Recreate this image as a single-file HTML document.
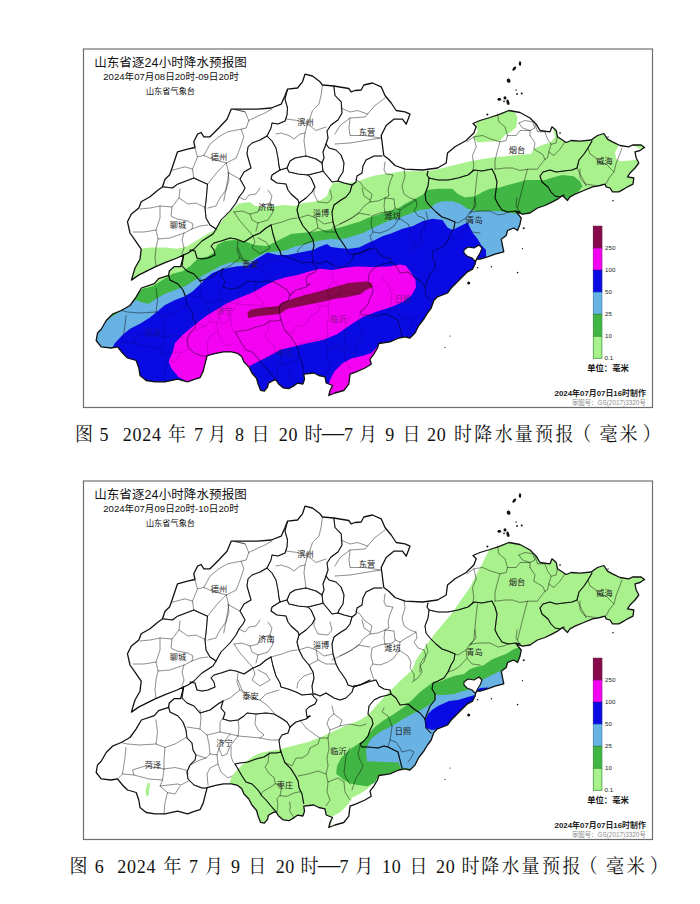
<!DOCTYPE html>
<html lang="zh-CN"><head><meta charset="utf-8"><title>山东省逐24小时降水预报图</title>
<style>
html,body{margin:0;padding:0;background:#fff;}
body{width:700px;height:904px;overflow:hidden;position:relative;}
svg{position:absolute;left:0;top:0;display:block;}
.cn{font-family:"Liberation Sans","Noto Sans CJK SC",sans-serif;}
.cap{font-family:"Liberation Serif","Noto Serif CJK SC",serif;fill:#111;}
</style></head><body>
<svg width="700" height="904" viewBox="0 0 700 904">
<defs><clipPath id="prov"><polygon points="131.4,280.1 135.0,268.0 140.0,259.2 141.2,249.2 136.2,241.8 130.0,233.0 127.5,221.8 131.2,214.2 138.8,208.0 141.2,201.8 150.0,196.8 157.5,190.5 162.5,186.8 165.0,179.2 169.5,175.0 171.2,170.5 175.0,159.2 177.5,151.8 187.5,149.2 195.0,147.5 193.8,141.8 197.5,134.2 201.2,132.5 203.8,136.8 210.0,136.8 218.8,128.0 227.0,119.2 231.2,109.2 243.8,109.2 257.5,109.2 271.2,108.0 281.2,104.2 285.0,95.5 287.5,89.2 297.5,88.0 302.5,81.8 305.0,74.2 312.5,76.0 320.0,81.8 322.5,85.0 333.8,86.0 348.8,88.5 351.2,91.8 355.0,90.5 361.2,90.0 363.8,85.0 372.5,83.0 381.2,86.8 385.0,95.5 391.2,103.0 396.2,110.5 405.0,111.8 410.0,114.2 406.2,124.2 402.5,119.2 393.8,119.2 386.2,125.5 381.2,135.5 382.5,145.5 383.8,155.5 388.8,159.2 395.0,165.5 405.0,169.2 422.5,170.0 437.5,168.0 446.2,163.0 447.5,153.0 455.0,146.8 466.2,140.5 473.8,133.0 476.2,126.8 473.0,123.5 480.0,120.5 490.0,117.5 500.0,114.2 508.8,110.5 520.0,112.5 530.0,118.0 536.2,124.2 540.0,130.5 550.0,131.8 552.0,126.8 556.2,130.5 557.5,136.8 566.2,142.5 571.2,140.5 580.0,141.2 591.2,140.0 597.5,135.5 603.8,133.5 607.5,139.2 612.5,141.8 620.0,145.5 628.8,146.8 632.5,145.0 641.2,145.0 644.5,147.5 640.0,150.5 635.0,151.8 636.2,158.0 638.8,163.0 635.0,168.0 630.0,173.0 627.5,176.8 633.8,178.0 633.0,184.2 627.5,186.8 623.8,189.2 618.8,191.8 612.5,191.8 610.0,188.0 606.2,186.8 605.0,184.2 600.0,185.5 592.5,186.8 583.8,190.5 575.0,194.2 570.0,196.8 567.5,200.5 562.5,195.5 557.5,199.2 552.5,201.8 545.0,205.5 537.5,208.0 530.0,213.0 522.5,214.2 516.2,211.8 521.2,218.0 520.0,224.2 517.5,230.5 513.8,228.0 507.5,230.5 506.2,235.5 501.2,239.2 503.8,251.8 495.0,254.2 487.5,256.8 480.0,259.2 476.2,259.2 475.0,264.2 472.5,269.2 467.5,271.8 461.2,278.0 456.2,283.0 451.2,288.0 447.5,293.0 441.2,295.5 437.5,296.8 433.8,300.5 431.2,308.0 427.5,313.0 423.8,319.2 418.8,325.5 415.0,333.0 410.0,338.0 405.0,336.8 398.8,338.0 390.0,341.8 378.8,343.5 377.5,348.0 373.8,354.2 370.0,359.2 371.2,364.2 365.0,368.0 356.2,371.8 350.0,374.2 348.8,384.2 343.8,390.5 335.0,393.0 328.8,395.5 330.0,390.5 332.5,385.5 326.2,383.0 325.0,376.8 318.8,375.5 313.8,373.0 303.8,374.2 304.5,379.3 302.9,384.0 297.4,383.2 294.3,385.6 288.8,388.7 283.3,387.9 278.6,384.0 276.2,380.1 273.9,380.1 268.4,383.2 267.6,387.1 264.4,391.1 260.5,390.3 258.1,384.0 256.6,378.5 251.9,373.0 248.7,366.7 244.0,362.0 241.6,356.5 237.7,353.4 231.4,351.8 223.6,351.8 215.7,353.4 207.1,355.7 204.7,365.1 203.1,371.4 200.0,377.7 195.0,379.2 187.5,381.8 177.5,379.2 165.0,381.8 155.0,381.8 146.2,380.5 140.0,375.5 138.8,368.0 136.2,360.5 127.5,358.0 122.5,353.0 117.5,346.8 111.2,348.0 101.2,346.8 96.2,340.5 97.5,333.0 101.2,329.2 106.2,320.5 112.5,314.2 121.2,310.5 130.0,305.5 136.2,296.8 141.4,288.0 154.3,283.7 158.6,278.7 168.6,275.4 169.3,270.9 174.3,266.6 180.7,266.6 182.1,260.9 183.6,254.9 177.1,258.0 165.7,262.3 155.7,266.6 148.6,270.1 138.6,275.1"/></clipPath></defs>
<rect width="700" height="904" fill="#fff"/>
<g transform="translate(0,0)">
<rect x="83.5" y="49" width="569" height="358.5" fill="#fff" stroke="#6e6e6e" stroke-width="1.2"/>
<g clip-path="url(#prov)"><polygon points="90.0,249.0 141.2,248.8 150.0,247.5 165.0,247.5 177.5,248.8 187.5,246.2 197.5,240.0 207.5,233.8 215.0,230.0 218.8,225.0 227.0,214.5 238.6,203.5 250.0,202.0 255.0,206.0 265.0,207.0 275.0,206.0 285.0,205.0 295.0,206.0 303.0,203.0 313.0,202.0 321.0,200.0 327.0,196.0 330.0,188.0 333.0,183.0 341.0,182.0 349.0,183.0 359.0,181.0 367.0,178.0 375.0,175.5 385.0,174.0 395.0,172.5 402.5,171.2 415.0,171.2 427.5,171.2 440.0,168.8 450.0,166.2 460.0,163.8 470.0,161.2 480.0,159.5 492.5,157.5 505.0,156.2 517.5,155.0 531.2,153.8 533.8,148.8 542.5,145.0 550.0,142.5 555.0,137.5 553.8,131.2 553.0,120.0 660.0,120.0 660.0,400.0 90.0,400.0" fill="#a9f18d"/><polygon points="618.8,145.0 625.0,145.0 635.0,146.2 640.0,149.0 648.0,152.0 648.0,159.0 637.5,159.5 630.0,160.5 620.0,161.2 616.2,158.8 615.0,152.5 617.5,147.5" fill="#fff"/><polygon points="474.0,116.0 487.0,110.0 503.0,106.0 513.0,108.0 517.5,117.5 516.2,127.5 510.0,132.5 505.0,135.0 500.0,141.2 490.3,141.5 477.7,142.4 473.0,137.7 477.7,131.4" fill="#a9f18d"/><polygon points="90.0,300.0 130.0,296.0 136.2,293.8 142.5,288.8 152.5,286.2 162.5,280.0 172.5,273.8 182.5,271.2 190.0,266.2 197.5,258.8 207.5,256.5 213.8,252.5 217.5,244.5 225.0,241.0 235.0,240.0 245.0,241.5 255.0,245.0 267.0,246.0 275.0,242.0 283.0,238.0 291.0,234.0 301.0,233.0 311.0,232.0 319.0,231.0 329.0,229.5 340.0,227.5 350.0,224.5 360.0,221.5 367.5,218.0 377.5,215.0 387.5,211.5 397.5,208.8 405.0,203.8 415.0,198.8 422.5,195.0 427.5,190.0 437.5,188.8 452.5,188.8 457.5,193.8 465.0,197.5 475.0,196.2 482.5,192.0 490.0,188.8 500.0,187.5 507.5,185.0 517.5,182.5 526.2,180.0 537.5,180.0 545.0,180.0 552.5,177.5 562.5,175.0 573.8,176.2 580.0,181.2 582.5,186.2 578.8,191.2 572.5,195.0 567.5,200.0 565.0,230.0 660.0,400.0 90.0,400.0" fill="#42b645"/><polygon points="90.0,335.0 110.0,318.0 124.0,309.0 130.0,303.8 136.2,300.0 142.5,302.5 148.8,303.8 156.2,298.8 165.0,293.8 175.0,290.0 185.0,286.2 191.2,282.5 200.0,277.0 207.5,273.0 215.0,269.0 221.0,265.5 230.0,262.5 240.0,262.5 250.0,261.0 255.0,258.0 265.0,252.5 277.5,251.2 285.0,250.5 295.0,246.5 305.0,244.5 313.0,242.0 323.0,240.0 331.0,239.0 339.0,239.5 345.0,238.5 355.0,235.5 363.0,233.0 371.0,229.0 379.0,225.0 387.0,221.5 395.0,219.0 400.0,217.5 410.0,213.8 420.0,210.0 430.0,208.8 435.0,203.8 442.5,201.2 452.5,201.2 460.0,203.8 467.5,208.8 477.5,211.5 490.0,211.0 500.0,211.2 507.5,212.5 515.0,213.8 535.0,214.0 535.0,270.0 660.0,400.0 90.0,400.0" fill="#68b2e4"/></g>
<polyline points="233.8,109.2 245.0,111.8 248.8,120.5 246.2,128.0 241.2,129.2 227.5,131.8 218.8,136.8 210.0,144.2 203.8,155.5 197.5,156.8 195.0,148.0" fill="none" stroke="rgba(0,0,0,0.42)" stroke-width="0.8" stroke-linejoin="round" stroke-linecap="round"/><polyline points="241.2,129.2 243.8,136.8 240.0,148.0 236.2,158.0 226.2,163.0 217.5,171.8 207.5,184.2" fill="none" stroke="rgba(0,0,0,0.42)" stroke-width="0.8" stroke-linejoin="round" stroke-linecap="round"/><polyline points="171.2,170.5 185.0,166.8 192.5,169.2 193.8,178.0" fill="none" stroke="rgba(0,0,0,0.42)" stroke-width="0.8" stroke-linejoin="round" stroke-linecap="round"/><polyline points="197.5,156.8 192.5,169.2" fill="none" stroke="rgba(0,0,0,0.42)" stroke-width="0.8" stroke-linejoin="round" stroke-linecap="round"/><polyline points="203.8,155.5 212.5,159.2 226.2,163.0" fill="none" stroke="rgba(0,0,0,0.42)" stroke-width="0.8" stroke-linejoin="round" stroke-linecap="round"/><polyline points="226.2,163.0 228.8,173.0 240.0,179.2" fill="none" stroke="rgba(0,0,0,0.42)" stroke-width="0.8" stroke-linejoin="round" stroke-linecap="round"/><polyline points="228.8,173.0 226.2,188.0 223.8,201.0" fill="none" stroke="rgba(0,0,0,0.42)" stroke-width="0.8" stroke-linejoin="round" stroke-linecap="round"/><polyline points="248.8,120.5 258.0,116.0 265.0,113.0 272.0,109.0" fill="none" stroke="rgba(0,0,0,0.42)" stroke-width="0.8" stroke-linejoin="round" stroke-linecap="round"/><polyline points="180.0,189.0 179.0,198.0 172.0,207.0 160.0,206.0 150.0,208.0 140.0,209.0" fill="none" stroke="rgba(0,0,0,0.42)" stroke-width="0.8" stroke-linejoin="round" stroke-linecap="round"/><polyline points="179.0,198.0 188.0,204.0 196.0,203.0 204.0,207.0 206.0,208.0" fill="none" stroke="rgba(0,0,0,0.42)" stroke-width="0.8" stroke-linejoin="round" stroke-linecap="round"/><polyline points="172.0,207.0 171.0,216.0 177.0,219.0 188.0,221.0 193.0,224.0 192.0,229.0 184.0,233.0 170.0,238.0 158.0,239.0 156.0,230.0 160.0,218.0 160.0,206.0" fill="none" stroke="rgba(0,0,0,0.42)" stroke-width="0.8" stroke-linejoin="round" stroke-linecap="round"/><polyline points="156.0,230.0 144.0,232.0 133.0,232.0" fill="none" stroke="rgba(0,0,0,0.42)" stroke-width="0.8" stroke-linejoin="round" stroke-linecap="round"/><polyline points="158.0,239.0 156.0,248.0 155.0,258.0 156.0,266.0" fill="none" stroke="rgba(0,0,0,0.42)" stroke-width="0.8" stroke-linejoin="round" stroke-linecap="round"/><polyline points="184.0,233.0 182.0,240.0 184.0,248.0 182.0,254.0" fill="none" stroke="rgba(0,0,0,0.42)" stroke-width="0.8" stroke-linejoin="round" stroke-linecap="round"/><polyline points="192.0,229.0 200.0,226.0 208.0,225.0" fill="none" stroke="rgba(0,0,0,0.42)" stroke-width="0.8" stroke-linejoin="round" stroke-linecap="round"/><polyline points="208.0,208.0 216.0,206.0 220.0,198.0 226.0,190.0 229.0,180.0 228.0,172.0" fill="none" stroke="rgba(0,0,0,0.42)" stroke-width="0.8" stroke-linejoin="round" stroke-linecap="round"/><polyline points="156.0,288.0 157.5,300.5 156.0,312.0 165.0,315.5 164.0,328.0 164.0,337.0 162.5,348.0 160.0,354.0 167.5,360.5 165.0,370.5 164.0,382.0" fill="none" stroke="rgba(0,0,0,0.42)" stroke-width="0.8" stroke-linejoin="round" stroke-linecap="round"/><polyline points="121.0,310.5 127.5,312.0 140.0,313.0 156.0,312.0" fill="none" stroke="rgba(0,0,0,0.42)" stroke-width="0.8" stroke-linejoin="round" stroke-linecap="round"/><polyline points="165.0,315.5 175.0,312.0 186.0,305.5" fill="none" stroke="rgba(0,0,0,0.42)" stroke-width="0.8" stroke-linejoin="round" stroke-linecap="round"/><polyline points="126.0,315.5 125.0,325.5 122.5,342.0 117.5,347.0" fill="none" stroke="rgba(0,0,0,0.42)" stroke-width="0.8" stroke-linejoin="round" stroke-linecap="round"/><polyline points="122.5,342.0 134.0,343.0 149.0,347.0 162.5,348.0" fill="none" stroke="rgba(0,0,0,0.42)" stroke-width="0.8" stroke-linejoin="round" stroke-linecap="round"/><polyline points="134.0,343.0 132.5,338.0 145.0,334.0 164.0,337.0" fill="none" stroke="rgba(0,0,0,0.42)" stroke-width="0.8" stroke-linejoin="round" stroke-linecap="round"/><polyline points="164.0,337.0 175.0,335.5 186.0,338.0 188.5,342.0" fill="none" stroke="rgba(0,0,0,0.42)" stroke-width="0.8" stroke-linejoin="round" stroke-linecap="round"/><polyline points="160.0,354.0 177.5,352.0 181.0,353.0 188.5,349.0" fill="none" stroke="rgba(0,0,0,0.42)" stroke-width="0.8" stroke-linejoin="round" stroke-linecap="round"/><polyline points="167.5,360.5 175.0,362.0 180.0,354.0" fill="none" stroke="rgba(0,0,0,0.42)" stroke-width="0.8" stroke-linejoin="round" stroke-linecap="round"/><polyline points="187.0,295.0 200.0,297.0 207.0,303.0 220.0,300.0 220.0,290.0 223.0,286.0" fill="none" stroke="rgba(0,0,0,0.42)" stroke-width="0.8" stroke-linejoin="round" stroke-linecap="round"/><polyline points="200.0,297.0 201.0,286.0 200.0,278.0" fill="none" stroke="rgba(0,0,0,0.42)" stroke-width="0.8" stroke-linejoin="round" stroke-linecap="round"/><polyline points="220.0,300.0 230.0,302.0 238.0,304.0 239.0,296.0 238.0,288.0" fill="none" stroke="rgba(0,0,0,0.42)" stroke-width="0.8" stroke-linejoin="round" stroke-linecap="round"/><polyline points="238.0,304.0 250.0,305.0 260.0,306.0 264.0,303.0 258.0,298.0 255.0,292.0 256.0,282.0" fill="none" stroke="rgba(0,0,0,0.42)" stroke-width="0.8" stroke-linejoin="round" stroke-linecap="round"/><polyline points="260.0,306.0 270.0,308.0 279.0,308.0" fill="none" stroke="rgba(0,0,0,0.42)" stroke-width="0.8" stroke-linejoin="round" stroke-linecap="round"/><polyline points="207.0,303.0 209.0,312.0 210.0,322.0 206.0,326.0 196.0,323.0" fill="none" stroke="rgba(0,0,0,0.42)" stroke-width="0.8" stroke-linejoin="round" stroke-linecap="round"/><polyline points="210.0,322.0 217.0,323.0 219.0,316.0 224.0,310.0 230.0,302.0" fill="none" stroke="rgba(0,0,0,0.42)" stroke-width="0.8" stroke-linejoin="round" stroke-linecap="round"/><polyline points="219.0,316.0 222.0,324.0 227.0,322.0 230.0,314.0 238.0,304.0" fill="none" stroke="rgba(0,0,0,0.42)" stroke-width="0.8" stroke-linejoin="round" stroke-linecap="round"/><polyline points="217.0,323.0 218.0,332.0 221.0,340.0 228.0,346.0 232.0,344.0" fill="none" stroke="rgba(0,0,0,0.42)" stroke-width="0.8" stroke-linejoin="round" stroke-linecap="round"/><polyline points="218.0,332.0 210.0,336.0 207.0,342.0 208.0,353.0" fill="none" stroke="rgba(0,0,0,0.42)" stroke-width="0.8" stroke-linejoin="round" stroke-linecap="round"/><polyline points="231.0,314.0 231.0,324.0 233.0,330.0 235.0,332.0" fill="none" stroke="rgba(0,0,0,0.42)" stroke-width="0.8" stroke-linejoin="round" stroke-linecap="round"/><polyline points="190.0,333.0 200.0,328.0 206.0,326.0" fill="none" stroke="rgba(0,0,0,0.42)" stroke-width="0.8" stroke-linejoin="round" stroke-linecap="round"/><polyline points="234.0,212.0 242.0,211.0 250.0,214.0 258.0,212.0 260.0,206.0 270.0,203.0 272.0,196.0 268.0,190.0" fill="none" stroke="rgba(0,0,0,0.42)" stroke-width="0.8" stroke-linejoin="round" stroke-linecap="round"/><polyline points="250.0,214.0 252.0,220.0 258.0,223.0 268.0,220.0 273.0,212.0 270.0,203.0" fill="none" stroke="rgba(0,0,0,0.42)" stroke-width="0.8" stroke-linejoin="round" stroke-linecap="round"/><polyline points="239.0,197.0 245.0,200.0 249.0,195.0 256.0,194.0 260.0,188.0" fill="none" stroke="rgba(0,0,0,0.42)" stroke-width="0.8" stroke-linejoin="round" stroke-linecap="round"/><polyline points="234.0,212.0 240.0,221.0 248.0,230.0 253.0,236.0" fill="none" stroke="rgba(0,0,0,0.42)" stroke-width="0.8" stroke-linejoin="round" stroke-linecap="round"/><polyline points="258.0,223.0 256.0,231.0" fill="none" stroke="rgba(0,0,0,0.42)" stroke-width="0.8" stroke-linejoin="round" stroke-linecap="round"/><polyline points="271.0,225.0 282.0,222.0 290.0,219.0 297.0,218.0" fill="none" stroke="rgba(0,0,0,0.42)" stroke-width="0.8" stroke-linejoin="round" stroke-linecap="round"/><polyline points="253.0,236.0 255.0,242.0 252.0,248.0 260.0,254.0 270.0,248.0 266.0,242.0 258.0,238.0" fill="none" stroke="rgba(0,0,0,0.42)" stroke-width="0.8" stroke-linejoin="round" stroke-linecap="round"/><polyline points="238.0,241.0 237.0,250.0 240.0,258.0 230.0,266.0 223.0,269.0" fill="none" stroke="rgba(0,0,0,0.42)" stroke-width="0.8" stroke-linejoin="round" stroke-linecap="round"/><polyline points="240.0,258.0 250.0,266.0 260.0,268.0 268.0,274.0 274.0,281.0" fill="none" stroke="rgba(0,0,0,0.42)" stroke-width="0.8" stroke-linejoin="round" stroke-linecap="round"/><polyline points="260.0,268.0 266.0,262.0 279.0,258.0" fill="none" stroke="rgba(0,0,0,0.42)" stroke-width="0.8" stroke-linejoin="round" stroke-linecap="round"/><polyline points="238.0,248.0 242.0,258.0 256.0,268.0" fill="none" stroke="rgba(0,0,0,0.42)" stroke-width="0.8" stroke-linejoin="round" stroke-linecap="round"/><polyline points="314.0,188.0 314.0,194.0 318.0,202.0 328.0,203.0 332.0,198.0 330.0,190.0" fill="none" stroke="rgba(0,0,0,0.42)" stroke-width="0.8" stroke-linejoin="round" stroke-linecap="round"/><polyline points="299.0,218.0 308.0,215.0 316.0,218.0 324.0,224.0 333.0,222.0" fill="none" stroke="rgba(0,0,0,0.42)" stroke-width="0.8" stroke-linejoin="round" stroke-linecap="round"/><polyline points="316.0,218.0 318.0,228.0 326.0,232.0 336.0,232.0" fill="none" stroke="rgba(0,0,0,0.42)" stroke-width="0.8" stroke-linejoin="round" stroke-linecap="round"/><polyline points="309.0,233.0 318.0,228.0" fill="none" stroke="rgba(0,0,0,0.42)" stroke-width="0.8" stroke-linejoin="round" stroke-linecap="round"/><polyline points="297.0,256.0 298.0,250.0 304.0,244.0 312.0,241.0" fill="none" stroke="rgba(0,0,0,0.42)" stroke-width="0.8" stroke-linejoin="round" stroke-linecap="round"/><polyline points="332.0,228.0 342.0,223.0 352.0,218.0 358.0,213.0 370.0,215.0" fill="none" stroke="rgba(0,0,0,0.42)" stroke-width="0.8" stroke-linejoin="round" stroke-linecap="round"/><polyline points="362.0,188.0 364.0,196.0 370.0,200.0" fill="none" stroke="rgba(0,0,0,0.42)" stroke-width="0.8" stroke-linejoin="round" stroke-linecap="round"/><polyline points="322.5,85.0 321.0,95.5 319.0,104.0 312.5,110.5 310.0,118.0 307.5,124.0" fill="none" stroke="rgba(0,0,0,0.42)" stroke-width="0.8" stroke-linejoin="round" stroke-linecap="round"/><polyline points="286.0,119.0 297.5,120.5 307.5,124.0 316.0,130.5 326.0,127.0" fill="none" stroke="rgba(0,0,0,0.42)" stroke-width="0.8" stroke-linejoin="round" stroke-linecap="round"/><polyline points="307.5,124.0 305.0,133.0 304.0,140.5 306.0,156.0" fill="none" stroke="rgba(0,0,0,0.42)" stroke-width="0.8" stroke-linejoin="round" stroke-linecap="round"/><polyline points="276.0,134.0 281.0,133.0 289.0,135.5 294.0,139.0 300.0,134.0 305.0,133.0" fill="none" stroke="rgba(0,0,0,0.42)" stroke-width="0.8" stroke-linejoin="round" stroke-linecap="round"/><polyline points="341.0,108.0 350.0,112.0 357.5,110.5 367.5,114.0 375.0,105.5 385.0,98.0" fill="none" stroke="rgba(0,0,0,0.42)" stroke-width="0.8" stroke-linejoin="round" stroke-linecap="round"/><polyline points="335.0,134.0 340.0,125.5 350.0,118.0 365.0,117.0 367.5,114.0" fill="none" stroke="rgba(0,0,0,0.42)" stroke-width="0.8" stroke-linejoin="round" stroke-linecap="round"/><polyline points="350.0,118.0 349.0,128.0 350.0,135.5 365.0,135.5 380.0,138.0" fill="none" stroke="rgba(0,0,0,0.42)" stroke-width="0.8" stroke-linejoin="round" stroke-linecap="round"/><polyline points="335.0,144.0 350.0,143.0 365.0,140.5 381.0,138.0" fill="none" stroke="rgba(0,0,0,0.42)" stroke-width="0.8" stroke-linejoin="round" stroke-linecap="round"/><polyline points="233.8,109.2 245.0,111.8" fill="none" stroke="rgba(0,0,0,0.42)" stroke-width="0.8" stroke-linejoin="round" stroke-linecap="round"/><polyline points="577.0,168.0 581.0,176.0 585.0,183.0 586.0,186.0" fill="none" stroke="rgba(0,0,0,0.42)" stroke-width="0.8" stroke-linejoin="round" stroke-linecap="round"/><polyline points="588.0,148.0 590.0,154.0 596.0,158.0 598.0,162.0" fill="none" stroke="rgba(0,0,0,0.42)" stroke-width="0.8" stroke-linejoin="round" stroke-linecap="round"/><polyline points="622.0,148.0 619.0,156.0 616.0,164.0 614.0,172.0 609.0,178.0 606.0,184.0" fill="none" stroke="rgba(0,0,0,0.42)" stroke-width="0.8" stroke-linejoin="round" stroke-linecap="round"/><polyline points="385.0,162.0 384.0,170.0 386.0,174.0 393.0,175.0 390.0,182.0 388.0,190.0 389.0,196.0 385.0,198.0 384.0,206.0 385.0,212.0" fill="none" stroke="rgba(0,0,0,0.42)" stroke-width="0.8" stroke-linejoin="round" stroke-linecap="round"/><polyline points="404.0,168.0 405.0,176.0 402.0,186.0 404.0,194.0 410.0,198.0 416.0,200.0 417.0,206.0 414.0,210.0 418.0,216.0 424.0,218.0 426.0,224.0 424.0,230.0 420.0,234.0 420.0,240.0" fill="none" stroke="rgba(0,0,0,0.42)" stroke-width="0.8" stroke-linejoin="round" stroke-linecap="round"/><polyline points="385.0,198.0 394.0,199.0 395.0,208.0 400.0,210.0 406.0,206.0 410.0,204.0 416.0,200.0" fill="none" stroke="rgba(0,0,0,0.42)" stroke-width="0.8" stroke-linejoin="round" stroke-linecap="round"/><polyline points="385.0,212.0 393.0,211.0 395.0,208.0" fill="none" stroke="rgba(0,0,0,0.42)" stroke-width="0.8" stroke-linejoin="round" stroke-linecap="round"/><polyline points="385.0,212.0 380.0,213.0 372.0,216.0 371.0,224.0 373.0,232.0 370.0,236.0 372.0,242.0 374.0,248.0" fill="none" stroke="rgba(0,0,0,0.42)" stroke-width="0.8" stroke-linejoin="round" stroke-linecap="round"/><polyline points="400.0,210.0 399.0,218.0 394.0,226.0 388.0,230.0 380.0,233.0 373.0,232.0" fill="none" stroke="rgba(0,0,0,0.42)" stroke-width="0.8" stroke-linejoin="round" stroke-linecap="round"/><polyline points="340.0,224.0 348.0,220.0 358.0,214.0 364.0,206.0 370.0,202.0 372.0,194.0 364.0,188.0 360.0,182.0 355.0,179.0" fill="none" stroke="rgba(0,0,0,0.42)" stroke-width="0.8" stroke-linejoin="round" stroke-linecap="round"/><polyline points="370.0,202.0 378.0,201.0 385.0,198.0" fill="none" stroke="rgba(0,0,0,0.42)" stroke-width="0.8" stroke-linejoin="round" stroke-linecap="round"/><polyline points="399.0,218.0 408.0,224.0 411.0,230.0 410.0,236.0 414.0,242.0 414.0,248.0" fill="none" stroke="rgba(0,0,0,0.42)" stroke-width="0.8" stroke-linejoin="round" stroke-linecap="round"/><polyline points="332.0,274.0 334.0,282.0 329.0,286.0 327.0,292.0 330.0,298.0 340.0,294.0 342.0,288.0 338.0,285.0 334.0,282.0" fill="none" stroke="rgba(0,0,0,0.42)" stroke-width="0.8" stroke-linejoin="round" stroke-linecap="round"/><polyline points="300.0,288.0 306.0,296.0 314.0,302.0 320.0,306.0 328.0,306.0 330.0,298.0" fill="none" stroke="rgba(0,0,0,0.42)" stroke-width="0.8" stroke-linejoin="round" stroke-linecap="round"/><polyline points="320.0,306.0 318.0,312.0 310.0,316.0 308.0,322.0 302.0,326.0 296.0,326.0 292.0,334.0 284.0,330.0" fill="none" stroke="rgba(0,0,0,0.42)" stroke-width="0.8" stroke-linejoin="round" stroke-linecap="round"/><polyline points="328.0,306.0 329.0,316.0 327.0,326.0 328.0,334.0 326.0,342.0 328.0,350.0 338.0,346.0 344.0,350.0" fill="none" stroke="rgba(0,0,0,0.42)" stroke-width="0.8" stroke-linejoin="round" stroke-linecap="round"/><polyline points="298.0,344.0 308.0,342.0 318.0,339.0 326.0,342.0" fill="none" stroke="rgba(0,0,0,0.42)" stroke-width="0.8" stroke-linejoin="round" stroke-linecap="round"/><polyline points="360.0,314.0 358.0,322.0 360.0,328.0 363.0,334.0 360.0,340.0 356.0,346.0 354.0,352.0 352.0,358.0" fill="none" stroke="rgba(0,0,0,0.42)" stroke-width="0.8" stroke-linejoin="round" stroke-linecap="round"/><polyline points="350.0,316.0 346.0,324.0 345.0,332.0 344.0,340.0 346.0,346.0 350.0,352.0" fill="none" stroke="rgba(0,0,0,0.42)" stroke-width="0.8" stroke-linejoin="round" stroke-linecap="round"/><polyline points="340.0,294.0 350.0,292.0 360.0,294.0 366.0,292.0" fill="none" stroke="rgba(0,0,0,0.42)" stroke-width="0.8" stroke-linejoin="round" stroke-linecap="round"/><polyline points="328.0,350.0 327.0,360.0 330.0,368.0 326.0,374.0" fill="none" stroke="rgba(0,0,0,0.42)" stroke-width="0.8" stroke-linejoin="round" stroke-linecap="round"/><polyline points="344.0,350.0 345.0,360.0 350.0,368.0" fill="none" stroke="rgba(0,0,0,0.42)" stroke-width="0.8" stroke-linejoin="round" stroke-linecap="round"/><polyline points="392.0,294.0 391.0,302.0 390.0,308.0 396.0,310.0 400.0,316.0 402.0,320.0 410.0,318.0 414.0,320.0 411.0,326.0 408.0,330.0" fill="none" stroke="rgba(0,0,0,0.42)" stroke-width="0.8" stroke-linejoin="round" stroke-linecap="round"/><polyline points="390.0,308.0 388.0,315.0" fill="none" stroke="rgba(0,0,0,0.42)" stroke-width="0.8" stroke-linejoin="round" stroke-linecap="round"/><polyline points="384.0,276.0 382.0,280.0 388.0,284.0 392.0,294.0" fill="none" stroke="rgba(0,0,0,0.42)" stroke-width="0.8" stroke-linejoin="round" stroke-linecap="round"/><polyline points="269.0,321.0 268.0,330.5 265.0,335.0 269.0,341.5 274.0,345.5 275.4,351.8 270.7,355.0 262.8,359.6 260.5,362.8" fill="none" stroke="rgba(0,0,0,0.42)" stroke-width="0.8" stroke-linejoin="round" stroke-linecap="round"/><polyline points="275.4,351.8 281.7,353.4 281.0,359.0 280.0,363.6 277.0,366.7 277.8,373.0 277.0,380.0" fill="none" stroke="rgba(0,0,0,0.42)" stroke-width="0.8" stroke-linejoin="round" stroke-linecap="round"/><polyline points="280.0,363.6 287.0,364.4 294.0,361.0 300.6,359.6" fill="none" stroke="rgba(0,0,0,0.42)" stroke-width="0.8" stroke-linejoin="round" stroke-linecap="round"/><polyline points="289.6,370.0 290.4,374.6 289.6,379.0 294.0,385.6" fill="none" stroke="rgba(0,0,0,0.42)" stroke-width="0.8" stroke-linejoin="round" stroke-linecap="round"/><polyline points="598.0,162.0 606.0,164.0 614.0,172.0" fill="none" stroke="rgba(0,0,0,0.42)" stroke-width="0.8" stroke-linejoin="round" stroke-linecap="round"/><polyline points="475.0,198.0 476.0,206.0 470.0,212.0 466.0,218.0 467.0,226.0 472.0,232.0 480.0,233.0" fill="none" stroke="rgba(0,0,0,0.42)" stroke-width="0.8" stroke-linejoin="round" stroke-linecap="round"/><polyline points="466.0,218.0 458.0,223.0 455.0,222.0" fill="none" stroke="rgba(0,0,0,0.42)" stroke-width="0.8" stroke-linejoin="round" stroke-linecap="round"/><polyline points="470.0,212.0 480.0,211.0 490.0,211.0 498.0,215.0 504.0,214.0 508.0,212.0" fill="none" stroke="rgba(0,0,0,0.42)" stroke-width="0.8" stroke-linejoin="round" stroke-linecap="round"/><polyline points="517.0,198.0 516.0,206.0 520.0,212.0" fill="none" stroke="rgba(0,0,0,0.42)" stroke-width="0.8" stroke-linejoin="round" stroke-linecap="round"/><polyline points="467.0,226.0 460.0,234.0 454.0,238.0 448.0,240.0" fill="none" stroke="rgba(0,0,0,0.42)" stroke-width="0.8" stroke-linejoin="round" stroke-linecap="round"/><polyline points="426.0,212.0 428.0,220.0 424.0,226.0 420.0,232.0 422.0,240.0 418.0,246.0 412.0,250.0" fill="none" stroke="rgba(0,0,0,0.42)" stroke-width="0.8" stroke-linejoin="round" stroke-linecap="round"/><polyline points="497.5,114.2 498.8,121.8 505.0,126.8 507.5,135.5 506.2,140.5 500.0,141.8 491.2,139.2 482.5,135.5 473.8,136.8 467.0,142.0" fill="none" stroke="rgba(0,0,0,0.42)" stroke-width="0.8" stroke-linejoin="round" stroke-linecap="round"/><polyline points="518.8,123.0 525.0,120.5 532.5,121.8 535.0,128.0 530.0,130.5 522.5,128.0 518.8,123.0" fill="none" stroke="rgba(0,0,0,0.42)" stroke-width="0.8" stroke-linejoin="round" stroke-linecap="round"/><polyline points="507.5,135.5 516.2,135.5 520.0,130.5 530.0,130.5" fill="none" stroke="rgba(0,0,0,0.42)" stroke-width="0.8" stroke-linejoin="round" stroke-linecap="round"/><polyline points="530.0,135.5 535.0,143.0 533.8,149.2 542.5,154.2 545.0,159.2 540.0,165.5 537.5,169.2 527.5,169.2 520.0,170.5 512.5,168.0 505.0,168.0 495.0,169.2" fill="none" stroke="rgba(0,0,0,0.42)" stroke-width="0.8" stroke-linejoin="round" stroke-linecap="round"/><polyline points="530.0,130.5 530.0,135.5" fill="none" stroke="rgba(0,0,0,0.42)" stroke-width="0.8" stroke-linejoin="round" stroke-linecap="round"/><polyline points="500.0,141.8 497.5,150.5 495.0,160.5 495.0,169.2" fill="none" stroke="rgba(0,0,0,0.42)" stroke-width="0.8" stroke-linejoin="round" stroke-linecap="round"/><polyline points="473.8,136.8 476.2,146.8 472.5,155.5 473.8,165.5 472.5,171.8" fill="none" stroke="rgba(0,0,0,0.42)" stroke-width="0.8" stroke-linejoin="round" stroke-linecap="round"/><polyline points="545.0,131.8 547.5,139.2 551.2,144.2 548.8,151.8 547.5,158.0 545.0,159.2" fill="none" stroke="rgba(0,0,0,0.42)" stroke-width="0.8" stroke-linejoin="round" stroke-linecap="round"/><polyline points="557.5,135.5 556.2,143.0 551.2,144.2" fill="none" stroke="rgba(0,0,0,0.42)" stroke-width="0.8" stroke-linejoin="round" stroke-linecap="round"/><polyline points="535.0,124.2 537.5,131.8 545.0,131.8" fill="none" stroke="rgba(0,0,0,0.42)" stroke-width="0.8" stroke-linejoin="round" stroke-linecap="round"/><polyline points="565.0,141.8 560.0,149.2 553.8,155.5 548.8,151.8" fill="none" stroke="rgba(0,0,0,0.42)" stroke-width="0.8" stroke-linejoin="round" stroke-linecap="round"/><polyline points="527.5,169.2 525.0,178.0 522.5,188.0 520.0,198.0 517.5,208.0" fill="none" stroke="rgba(0,0,0,0.42)" stroke-width="0.8" stroke-linejoin="round" stroke-linecap="round"/><polyline points="580.0,169.0 580.0,178.0 585.0,184.0 595.0,185.5" fill="none" stroke="rgba(0,0,0,0.42)" stroke-width="0.8" stroke-linejoin="round" stroke-linecap="round"/><polyline points="477.5,171.8 476.2,183.0 475.0,195.5 473.8,208.0 470.0,214.0" fill="none" stroke="rgba(0,0,0,0.42)" stroke-width="0.8" stroke-linejoin="round" stroke-linecap="round"/><polyline points="162.5,186.8 172.5,188.0 177.5,184.2 193.8,178.0 207.5,184.2 206.0,201.0 205.0,208.0 206.0,218.0 210.0,225.0 216.0,229.0" fill="none" stroke="rgba(10,10,10,0.9)" stroke-width="1.05" stroke-linejoin="round" stroke-linecap="round"/><polyline points="287.5,89.2 285.0,99.2 287.5,108.0 287.0,115.0 285.0,121.0 278.0,124.0 272.0,123.0 271.0,128.0 267.0,136.0 260.0,140.0 252.0,143.0 248.0,147.0 247.0,154.0 249.0,161.0 251.0,168.0 244.0,172.0 240.0,179.0 245.0,188.0 243.0,192.0 239.0,197.0 236.0,203.0 230.0,211.0 221.0,220.0 216.0,229.0" fill="none" stroke="rgba(10,10,10,0.9)" stroke-width="1.05" stroke-linejoin="round" stroke-linecap="round"/><polyline points="267.0,136.0 272.0,141.0 276.0,148.0 278.0,158.0 279.0,166.0 280.0,170.0 272.0,175.0 271.0,179.0 277.0,183.0 286.0,184.0 288.0,190.0 291.0,194.0 298.0,200.0 299.0,203.0" fill="none" stroke="rgba(10,10,10,0.9)" stroke-width="1.05" stroke-linejoin="round" stroke-linecap="round"/><polyline points="287.0,168.0 290.0,161.0 295.0,158.0 306.0,156.0 316.0,159.0 322.0,163.0 323.0,171.0 320.0,172.0 308.0,175.0 298.0,174.0 289.0,172.0 287.0,168.0" fill="none" stroke="rgba(10,10,10,0.9)" stroke-width="1.05" stroke-linejoin="round" stroke-linecap="round"/><polyline points="280.0,170.0 287.0,168.0" fill="none" stroke="rgba(10,10,10,0.9)" stroke-width="1.05" stroke-linejoin="round" stroke-linecap="round"/><polyline points="333.8,86.0 335.0,95.5 341.2,101.8 342.0,113.0 338.0,120.0 331.0,125.0 327.0,131.0 328.0,138.0 326.0,144.0 329.0,148.0 336.0,150.0 341.0,155.0 344.0,163.0 343.0,172.0 339.0,178.0 338.0,181.0" fill="none" stroke="rgba(10,10,10,0.9)" stroke-width="1.05" stroke-linejoin="round" stroke-linecap="round"/><polyline points="326.0,144.0 323.0,152.0 324.0,158.0 322.0,163.0" fill="none" stroke="rgba(10,10,10,0.9)" stroke-width="1.05" stroke-linejoin="round" stroke-linecap="round"/><polyline points="323.0,171.0 328.0,177.0 332.0,182.0 338.0,181.0 344.0,183.0 352.0,185.0 356.0,182.0 357.0,176.0 362.0,173.0 363.0,166.0 366.0,160.0 374.0,156.0 382.0,156.0" fill="none" stroke="rgba(10,10,10,0.9)" stroke-width="1.05" stroke-linejoin="round" stroke-linecap="round"/><polyline points="308.0,175.0 311.0,178.0 315.0,187.0 312.0,192.0 306.0,198.0 299.0,203.0 297.0,210.0 299.0,218.0 303.0,226.0 309.0,233.0 313.0,240.0 314.0,246.0 312.0,254.0 313.0,262.0 315.0,262.0" fill="none" stroke="rgba(10,10,10,0.9)" stroke-width="1.05" stroke-linejoin="round" stroke-linecap="round"/><polyline points="352.0,185.0 350.0,192.0 346.0,197.0 341.0,200.0 334.0,205.0 332.0,212.0 333.0,222.0 336.0,232.0 339.0,238.0 342.0,242.0 346.0,248.0 348.0,253.0 354.0,255.0 362.0,252.0 370.0,248.0" fill="none" stroke="rgba(10,10,10,0.9)" stroke-width="1.05" stroke-linejoin="round" stroke-linecap="round"/><polyline points="216.0,229.0 213.0,234.0 202.0,241.0 194.0,249.0 188.0,253.0 183.6,254.9" fill="none" stroke="rgba(10,10,10,0.9)" stroke-width="1.05" stroke-linejoin="round" stroke-linecap="round"/><polyline points="190.0,250.0 195.0,251.0 197.0,258.0 202.0,259.0 208.0,258.0 215.0,255.0 214.0,250.0 211.0,246.0 214.0,243.0 221.0,241.0 230.0,238.0 236.0,239.0 244.0,242.0 253.0,236.0 260.0,233.0 266.0,228.0 271.0,225.0" fill="none" stroke="rgba(10,10,10,0.9)" stroke-width="1.05" stroke-linejoin="round" stroke-linecap="round"/><polyline points="271.0,225.0 273.0,234.0 276.0,244.0 280.0,251.0 281.0,255.0 288.0,257.0 296.0,260.0 302.0,263.0 312.0,262.0 314.0,265.0 317.0,268.0 315.0,272.0 309.0,275.0 306.0,278.0 307.0,285.0 310.0,284.0" fill="none" stroke="rgba(10,10,10,0.9)" stroke-width="1.05" stroke-linejoin="round" stroke-linecap="round"/><polyline points="315.0,262.0 320.0,264.0 326.0,261.0 334.0,266.0 340.0,268.0 346.0,266.0 352.0,260.0 354.0,254.0" fill="none" stroke="rgba(10,10,10,0.9)" stroke-width="1.05" stroke-linejoin="round" stroke-linecap="round"/><polyline points="354.0,254.0 360.0,253.0 368.0,250.0 376.0,248.0 379.0,254.0 384.0,257.0 390.0,258.0 391.0,262.0 396.0,266.0 400.0,273.0 408.0,272.0 414.0,277.0 420.0,281.0 425.0,287.0" fill="none" stroke="rgba(10,10,10,0.9)" stroke-width="1.05" stroke-linejoin="round" stroke-linecap="round"/><polyline points="391.0,262.0 388.0,263.0 380.0,265.0 374.0,268.0 369.0,274.0 368.0,282.0 372.0,287.0 373.0,292.0 370.0,298.0 368.0,304.0 364.0,309.0 360.0,312.0 362.0,315.0 368.0,315.0 378.0,316.0 384.0,314.0 388.0,315.0 394.0,318.0 398.0,320.0 400.0,328.0 402.0,336.0" fill="none" stroke="rgba(10,10,10,0.9)" stroke-width="1.05" stroke-linejoin="round" stroke-linecap="round"/><polyline points="183.6,254.9 182.0,266.0 187.0,271.0 194.0,274.0 200.0,281.0 210.0,278.0 218.0,272.0 223.0,269.0" fill="none" stroke="rgba(10,10,10,0.9)" stroke-width="1.05" stroke-linejoin="round" stroke-linecap="round"/><polyline points="223.0,269.0 221.0,276.0 225.0,281.0 223.0,287.0 230.0,289.0 238.0,288.0 244.0,284.0 247.0,281.0 256.0,282.0 266.0,281.0 274.0,282.0 281.0,286.0 287.0,290.0 290.0,295.0" fill="none" stroke="rgba(10,10,10,0.9)" stroke-width="1.05" stroke-linejoin="round" stroke-linecap="round"/><polyline points="290.0,295.0 296.0,290.0 306.0,287.0 310.0,284.0" fill="none" stroke="rgba(10,10,10,0.9)" stroke-width="1.05" stroke-linejoin="round" stroke-linecap="round"/><polyline points="290.0,295.0 288.0,301.0 282.0,303.0 279.0,308.0 280.0,316.0 281.0,320.0" fill="none" stroke="rgba(10,10,10,0.9)" stroke-width="1.05" stroke-linejoin="round" stroke-linecap="round"/><polyline points="281.0,320.0 276.0,321.0 270.0,321.0 264.0,325.0 256.0,327.0 248.0,330.0 240.0,331.0 235.0,332.0 238.0,337.0 242.0,344.0 246.0,350.0 252.0,352.0 258.0,358.0 262.0,364.0 266.0,368.0 271.0,374.0 276.2,380.1" fill="none" stroke="rgba(10,10,10,0.9)" stroke-width="1.05" stroke-linejoin="round" stroke-linecap="round"/><polyline points="281.0,320.0 284.9,330.6 291.0,336.9 295.9,344.7 298.2,349.4 299.0,355.7 302.0,362.0 303.7,371.4" fill="none" stroke="rgba(10,10,10,0.9)" stroke-width="1.05" stroke-linejoin="round" stroke-linecap="round"/><polyline points="168.6,275.4 170.0,280.0 178.0,284.0 183.0,290.0 186.0,298.0 187.0,306.0 192.0,311.0 193.0,318.0 196.0,323.0 195.0,328.0 190.0,333.0 187.0,340.0 188.0,347.0 194.0,353.0 202.0,356.0 207.0,356.0" fill="none" stroke="rgba(10,10,10,0.9)" stroke-width="1.05" stroke-linejoin="round" stroke-linecap="round"/><polyline points="428.0,171.0 427.0,175.0 429.0,178.0 428.0,186.0 425.0,194.0 426.0,201.0 430.0,206.0 436.0,212.0 442.0,217.0 448.0,219.0 455.0,222.0 454.0,228.0 451.0,233.0 448.0,240.0 444.0,246.0 438.0,249.0 433.0,251.0 432.0,257.0 435.0,262.0 435.0,268.0 430.0,274.0 425.0,287.0" fill="none" stroke="rgba(10,10,10,0.9)" stroke-width="1.05" stroke-linejoin="round" stroke-linecap="round"/><polyline points="429.0,178.0 438.0,180.0 448.0,180.0 458.0,178.0 468.0,175.0 474.0,170.0 482.0,171.0 492.0,169.0 495.0,175.0 497.0,182.0 496.0,190.0 495.0,198.0 498.0,204.0 502.0,210.0 508.0,212.0 516.0,211.0 520.0,212.0" fill="none" stroke="rgba(10,10,10,0.9)" stroke-width="1.05" stroke-linejoin="round" stroke-linecap="round"/><polyline points="592.0,141.0 588.0,148.0 584.0,154.0 579.0,160.0 577.0,168.0 572.0,170.0 564.0,171.0 556.0,172.0 550.0,170.0 543.0,172.0 540.0,176.0 542.0,182.0 548.0,187.0 551.0,192.0 555.0,196.0 560.0,197.0 564.0,195.0" fill="none" stroke="rgba(10,10,10,0.9)" stroke-width="1.05" stroke-linejoin="round" stroke-linecap="round"/><polyline points="425.0,287.0 426.0,296.0 431.0,301.0" fill="none" stroke="rgba(10,10,10,0.9)" stroke-width="1.05" stroke-linejoin="round" stroke-linecap="round"/>
<g clip-path="url(#prov)"><polygon points="100.0,400.0 110.0,352.0 115.0,343.0 122.5,335.0 130.0,328.8 140.0,323.8 150.0,317.5 157.5,311.2 165.0,305.0 175.0,300.0 185.0,296.2 192.5,291.5 200.0,284.5 206.0,278.0 212.5,273.0 220.0,270.0 228.0,268.0 237.5,266.2 247.5,266.0 255.0,260.0 267.5,252.5 277.5,255.0 287.5,255.0 300.0,252.5 313.0,250.0 319.0,247.0 327.0,244.0 331.0,247.0 341.0,248.3 349.0,248.8 359.0,247.5 367.0,243.5 375.0,240.0 383.0,236.0 391.0,233.5 402.5,228.8 412.5,226.2 422.5,221.2 432.5,218.8 442.5,220.0 447.5,227.5 452.5,230.0 460.0,226.2 467.5,222.5 472.5,232.5 477.5,238.8 481.2,245.0 486.0,250.0 486.0,258.0 500.0,280.0 660.0,400.0" fill="#0a0ae2"/><polygon points="187.1,381.4 178.6,377.1 171.4,368.6 168.6,361.4 172.9,351.4 175.0,343.0 182.5,335.0 190.0,328.8 197.5,322.5 207.5,315.0 217.5,309.0 227.5,303.0 240.0,297.5 252.5,292.5 265.0,285.5 275.0,280.5 285.0,277.5 297.5,275.0 310.0,271.2 320.0,268.8 332.5,270.0 342.5,268.0 357.0,266.5 371.4,267.1 388.6,266.5 400.0,264.5 405.7,265.5 411.4,273.1 415.5,280.0 416.0,287.5 411.4,295.5 402.9,302.0 391.4,307.1 377.1,311.4 362.9,317.1 351.4,324.3 337.1,334.3 322.9,340.0 308.6,342.9 297.1,345.7 285.7,348.6 280.0,350.0 272.9,354.3 261.4,360.0 250.0,365.7 248.0,385.0 190.0,395.0" fill="#f402f2"/><polygon points="385.0,343.0 377.1,347.1 371.4,352.9 362.9,355.7 351.4,358.6 342.9,362.9 334.3,371.4 330.0,380.0 328.6,385.7 326.0,398.0 365.0,400.0 390.0,350.0" fill="#f402f2"/><polygon points="247.5,313.0 250.0,310.0 255.0,308.8 265.0,307.5 277.5,306.2 282.5,302.5 292.5,298.8 305.0,295.0 320.0,291.2 334.3,287.1 348.6,282.9 365.7,281.4 371.4,282.9 372.9,287.1 365.7,290.0 360.0,294.3 345.0,297.5 335.0,298.8 325.0,301.2 312.5,303.8 300.0,306.2 287.5,308.8 280.0,313.8 270.0,315.0 257.5,316.2 248.0,318.0" fill="#860a4c"/><polyline points="233.8,109.2 245.0,111.8 248.8,120.5 246.2,128.0 241.2,129.2 227.5,131.8 218.8,136.8 210.0,144.2 203.8,155.5 197.5,156.8 195.0,148.0" fill="none" stroke="rgba(0,0,0,0.18)" stroke-width="0.8" stroke-linejoin="round" stroke-linecap="round"/><polyline points="241.2,129.2 243.8,136.8 240.0,148.0 236.2,158.0 226.2,163.0 217.5,171.8 207.5,184.2" fill="none" stroke="rgba(0,0,0,0.18)" stroke-width="0.8" stroke-linejoin="round" stroke-linecap="round"/><polyline points="171.2,170.5 185.0,166.8 192.5,169.2 193.8,178.0" fill="none" stroke="rgba(0,0,0,0.18)" stroke-width="0.8" stroke-linejoin="round" stroke-linecap="round"/><polyline points="197.5,156.8 192.5,169.2" fill="none" stroke="rgba(0,0,0,0.18)" stroke-width="0.8" stroke-linejoin="round" stroke-linecap="round"/><polyline points="203.8,155.5 212.5,159.2 226.2,163.0" fill="none" stroke="rgba(0,0,0,0.18)" stroke-width="0.8" stroke-linejoin="round" stroke-linecap="round"/><polyline points="226.2,163.0 228.8,173.0 240.0,179.2" fill="none" stroke="rgba(0,0,0,0.18)" stroke-width="0.8" stroke-linejoin="round" stroke-linecap="round"/><polyline points="228.8,173.0 226.2,188.0 223.8,201.0" fill="none" stroke="rgba(0,0,0,0.18)" stroke-width="0.8" stroke-linejoin="round" stroke-linecap="round"/><polyline points="248.8,120.5 258.0,116.0 265.0,113.0 272.0,109.0" fill="none" stroke="rgba(0,0,0,0.18)" stroke-width="0.8" stroke-linejoin="round" stroke-linecap="round"/><polyline points="180.0,189.0 179.0,198.0 172.0,207.0 160.0,206.0 150.0,208.0 140.0,209.0" fill="none" stroke="rgba(0,0,0,0.18)" stroke-width="0.8" stroke-linejoin="round" stroke-linecap="round"/><polyline points="179.0,198.0 188.0,204.0 196.0,203.0 204.0,207.0 206.0,208.0" fill="none" stroke="rgba(0,0,0,0.18)" stroke-width="0.8" stroke-linejoin="round" stroke-linecap="round"/><polyline points="172.0,207.0 171.0,216.0 177.0,219.0 188.0,221.0 193.0,224.0 192.0,229.0 184.0,233.0 170.0,238.0 158.0,239.0 156.0,230.0 160.0,218.0 160.0,206.0" fill="none" stroke="rgba(0,0,0,0.18)" stroke-width="0.8" stroke-linejoin="round" stroke-linecap="round"/><polyline points="156.0,230.0 144.0,232.0 133.0,232.0" fill="none" stroke="rgba(0,0,0,0.18)" stroke-width="0.8" stroke-linejoin="round" stroke-linecap="round"/><polyline points="158.0,239.0 156.0,248.0 155.0,258.0 156.0,266.0" fill="none" stroke="rgba(0,0,0,0.18)" stroke-width="0.8" stroke-linejoin="round" stroke-linecap="round"/><polyline points="184.0,233.0 182.0,240.0 184.0,248.0 182.0,254.0" fill="none" stroke="rgba(0,0,0,0.18)" stroke-width="0.8" stroke-linejoin="round" stroke-linecap="round"/><polyline points="192.0,229.0 200.0,226.0 208.0,225.0" fill="none" stroke="rgba(0,0,0,0.18)" stroke-width="0.8" stroke-linejoin="round" stroke-linecap="round"/><polyline points="208.0,208.0 216.0,206.0 220.0,198.0 226.0,190.0 229.0,180.0 228.0,172.0" fill="none" stroke="rgba(0,0,0,0.18)" stroke-width="0.8" stroke-linejoin="round" stroke-linecap="round"/><polyline points="156.0,288.0 157.5,300.5 156.0,312.0 165.0,315.5 164.0,328.0 164.0,337.0 162.5,348.0 160.0,354.0 167.5,360.5 165.0,370.5 164.0,382.0" fill="none" stroke="rgba(0,0,0,0.18)" stroke-width="0.8" stroke-linejoin="round" stroke-linecap="round"/><polyline points="121.0,310.5 127.5,312.0 140.0,313.0 156.0,312.0" fill="none" stroke="rgba(0,0,0,0.18)" stroke-width="0.8" stroke-linejoin="round" stroke-linecap="round"/><polyline points="165.0,315.5 175.0,312.0 186.0,305.5" fill="none" stroke="rgba(0,0,0,0.18)" stroke-width="0.8" stroke-linejoin="round" stroke-linecap="round"/><polyline points="126.0,315.5 125.0,325.5 122.5,342.0 117.5,347.0" fill="none" stroke="rgba(0,0,0,0.18)" stroke-width="0.8" stroke-linejoin="round" stroke-linecap="round"/><polyline points="122.5,342.0 134.0,343.0 149.0,347.0 162.5,348.0" fill="none" stroke="rgba(0,0,0,0.18)" stroke-width="0.8" stroke-linejoin="round" stroke-linecap="round"/><polyline points="134.0,343.0 132.5,338.0 145.0,334.0 164.0,337.0" fill="none" stroke="rgba(0,0,0,0.18)" stroke-width="0.8" stroke-linejoin="round" stroke-linecap="round"/><polyline points="164.0,337.0 175.0,335.5 186.0,338.0 188.5,342.0" fill="none" stroke="rgba(0,0,0,0.18)" stroke-width="0.8" stroke-linejoin="round" stroke-linecap="round"/><polyline points="160.0,354.0 177.5,352.0 181.0,353.0 188.5,349.0" fill="none" stroke="rgba(0,0,0,0.18)" stroke-width="0.8" stroke-linejoin="round" stroke-linecap="round"/><polyline points="167.5,360.5 175.0,362.0 180.0,354.0" fill="none" stroke="rgba(0,0,0,0.18)" stroke-width="0.8" stroke-linejoin="round" stroke-linecap="round"/><polyline points="187.0,295.0 200.0,297.0 207.0,303.0 220.0,300.0 220.0,290.0 223.0,286.0" fill="none" stroke="rgba(0,0,0,0.18)" stroke-width="0.8" stroke-linejoin="round" stroke-linecap="round"/><polyline points="200.0,297.0 201.0,286.0 200.0,278.0" fill="none" stroke="rgba(0,0,0,0.18)" stroke-width="0.8" stroke-linejoin="round" stroke-linecap="round"/><polyline points="220.0,300.0 230.0,302.0 238.0,304.0 239.0,296.0 238.0,288.0" fill="none" stroke="rgba(0,0,0,0.18)" stroke-width="0.8" stroke-linejoin="round" stroke-linecap="round"/><polyline points="238.0,304.0 250.0,305.0 260.0,306.0 264.0,303.0 258.0,298.0 255.0,292.0 256.0,282.0" fill="none" stroke="rgba(0,0,0,0.18)" stroke-width="0.8" stroke-linejoin="round" stroke-linecap="round"/><polyline points="260.0,306.0 270.0,308.0 279.0,308.0" fill="none" stroke="rgba(0,0,0,0.18)" stroke-width="0.8" stroke-linejoin="round" stroke-linecap="round"/><polyline points="207.0,303.0 209.0,312.0 210.0,322.0 206.0,326.0 196.0,323.0" fill="none" stroke="rgba(0,0,0,0.18)" stroke-width="0.8" stroke-linejoin="round" stroke-linecap="round"/><polyline points="210.0,322.0 217.0,323.0 219.0,316.0 224.0,310.0 230.0,302.0" fill="none" stroke="rgba(0,0,0,0.18)" stroke-width="0.8" stroke-linejoin="round" stroke-linecap="round"/><polyline points="219.0,316.0 222.0,324.0 227.0,322.0 230.0,314.0 238.0,304.0" fill="none" stroke="rgba(0,0,0,0.18)" stroke-width="0.8" stroke-linejoin="round" stroke-linecap="round"/><polyline points="217.0,323.0 218.0,332.0 221.0,340.0 228.0,346.0 232.0,344.0" fill="none" stroke="rgba(0,0,0,0.18)" stroke-width="0.8" stroke-linejoin="round" stroke-linecap="round"/><polyline points="218.0,332.0 210.0,336.0 207.0,342.0 208.0,353.0" fill="none" stroke="rgba(0,0,0,0.18)" stroke-width="0.8" stroke-linejoin="round" stroke-linecap="round"/><polyline points="231.0,314.0 231.0,324.0 233.0,330.0 235.0,332.0" fill="none" stroke="rgba(0,0,0,0.18)" stroke-width="0.8" stroke-linejoin="round" stroke-linecap="round"/><polyline points="190.0,333.0 200.0,328.0 206.0,326.0" fill="none" stroke="rgba(0,0,0,0.18)" stroke-width="0.8" stroke-linejoin="round" stroke-linecap="round"/><polyline points="234.0,212.0 242.0,211.0 250.0,214.0 258.0,212.0 260.0,206.0 270.0,203.0 272.0,196.0 268.0,190.0" fill="none" stroke="rgba(0,0,0,0.18)" stroke-width="0.8" stroke-linejoin="round" stroke-linecap="round"/><polyline points="250.0,214.0 252.0,220.0 258.0,223.0 268.0,220.0 273.0,212.0 270.0,203.0" fill="none" stroke="rgba(0,0,0,0.18)" stroke-width="0.8" stroke-linejoin="round" stroke-linecap="round"/><polyline points="239.0,197.0 245.0,200.0 249.0,195.0 256.0,194.0 260.0,188.0" fill="none" stroke="rgba(0,0,0,0.18)" stroke-width="0.8" stroke-linejoin="round" stroke-linecap="round"/><polyline points="234.0,212.0 240.0,221.0 248.0,230.0 253.0,236.0" fill="none" stroke="rgba(0,0,0,0.18)" stroke-width="0.8" stroke-linejoin="round" stroke-linecap="round"/><polyline points="258.0,223.0 256.0,231.0" fill="none" stroke="rgba(0,0,0,0.18)" stroke-width="0.8" stroke-linejoin="round" stroke-linecap="round"/><polyline points="271.0,225.0 282.0,222.0 290.0,219.0 297.0,218.0" fill="none" stroke="rgba(0,0,0,0.18)" stroke-width="0.8" stroke-linejoin="round" stroke-linecap="round"/><polyline points="253.0,236.0 255.0,242.0 252.0,248.0 260.0,254.0 270.0,248.0 266.0,242.0 258.0,238.0" fill="none" stroke="rgba(0,0,0,0.18)" stroke-width="0.8" stroke-linejoin="round" stroke-linecap="round"/><polyline points="238.0,241.0 237.0,250.0 240.0,258.0 230.0,266.0 223.0,269.0" fill="none" stroke="rgba(0,0,0,0.18)" stroke-width="0.8" stroke-linejoin="round" stroke-linecap="round"/><polyline points="240.0,258.0 250.0,266.0 260.0,268.0 268.0,274.0 274.0,281.0" fill="none" stroke="rgba(0,0,0,0.18)" stroke-width="0.8" stroke-linejoin="round" stroke-linecap="round"/><polyline points="260.0,268.0 266.0,262.0 279.0,258.0" fill="none" stroke="rgba(0,0,0,0.18)" stroke-width="0.8" stroke-linejoin="round" stroke-linecap="round"/><polyline points="238.0,248.0 242.0,258.0 256.0,268.0" fill="none" stroke="rgba(0,0,0,0.18)" stroke-width="0.8" stroke-linejoin="round" stroke-linecap="round"/><polyline points="314.0,188.0 314.0,194.0 318.0,202.0 328.0,203.0 332.0,198.0 330.0,190.0" fill="none" stroke="rgba(0,0,0,0.18)" stroke-width="0.8" stroke-linejoin="round" stroke-linecap="round"/><polyline points="299.0,218.0 308.0,215.0 316.0,218.0 324.0,224.0 333.0,222.0" fill="none" stroke="rgba(0,0,0,0.18)" stroke-width="0.8" stroke-linejoin="round" stroke-linecap="round"/><polyline points="316.0,218.0 318.0,228.0 326.0,232.0 336.0,232.0" fill="none" stroke="rgba(0,0,0,0.18)" stroke-width="0.8" stroke-linejoin="round" stroke-linecap="round"/><polyline points="309.0,233.0 318.0,228.0" fill="none" stroke="rgba(0,0,0,0.18)" stroke-width="0.8" stroke-linejoin="round" stroke-linecap="round"/><polyline points="297.0,256.0 298.0,250.0 304.0,244.0 312.0,241.0" fill="none" stroke="rgba(0,0,0,0.18)" stroke-width="0.8" stroke-linejoin="round" stroke-linecap="round"/><polyline points="332.0,228.0 342.0,223.0 352.0,218.0 358.0,213.0 370.0,215.0" fill="none" stroke="rgba(0,0,0,0.18)" stroke-width="0.8" stroke-linejoin="round" stroke-linecap="round"/><polyline points="362.0,188.0 364.0,196.0 370.0,200.0" fill="none" stroke="rgba(0,0,0,0.18)" stroke-width="0.8" stroke-linejoin="round" stroke-linecap="round"/><polyline points="322.5,85.0 321.0,95.5 319.0,104.0 312.5,110.5 310.0,118.0 307.5,124.0" fill="none" stroke="rgba(0,0,0,0.18)" stroke-width="0.8" stroke-linejoin="round" stroke-linecap="round"/><polyline points="286.0,119.0 297.5,120.5 307.5,124.0 316.0,130.5 326.0,127.0" fill="none" stroke="rgba(0,0,0,0.18)" stroke-width="0.8" stroke-linejoin="round" stroke-linecap="round"/><polyline points="307.5,124.0 305.0,133.0 304.0,140.5 306.0,156.0" fill="none" stroke="rgba(0,0,0,0.18)" stroke-width="0.8" stroke-linejoin="round" stroke-linecap="round"/><polyline points="276.0,134.0 281.0,133.0 289.0,135.5 294.0,139.0 300.0,134.0 305.0,133.0" fill="none" stroke="rgba(0,0,0,0.18)" stroke-width="0.8" stroke-linejoin="round" stroke-linecap="round"/><polyline points="341.0,108.0 350.0,112.0 357.5,110.5 367.5,114.0 375.0,105.5 385.0,98.0" fill="none" stroke="rgba(0,0,0,0.18)" stroke-width="0.8" stroke-linejoin="round" stroke-linecap="round"/><polyline points="335.0,134.0 340.0,125.5 350.0,118.0 365.0,117.0 367.5,114.0" fill="none" stroke="rgba(0,0,0,0.18)" stroke-width="0.8" stroke-linejoin="round" stroke-linecap="round"/><polyline points="350.0,118.0 349.0,128.0 350.0,135.5 365.0,135.5 380.0,138.0" fill="none" stroke="rgba(0,0,0,0.18)" stroke-width="0.8" stroke-linejoin="round" stroke-linecap="round"/><polyline points="335.0,144.0 350.0,143.0 365.0,140.5 381.0,138.0" fill="none" stroke="rgba(0,0,0,0.18)" stroke-width="0.8" stroke-linejoin="round" stroke-linecap="round"/><polyline points="233.8,109.2 245.0,111.8" fill="none" stroke="rgba(0,0,0,0.18)" stroke-width="0.8" stroke-linejoin="round" stroke-linecap="round"/><polyline points="577.0,168.0 581.0,176.0 585.0,183.0 586.0,186.0" fill="none" stroke="rgba(0,0,0,0.18)" stroke-width="0.8" stroke-linejoin="round" stroke-linecap="round"/><polyline points="588.0,148.0 590.0,154.0 596.0,158.0 598.0,162.0" fill="none" stroke="rgba(0,0,0,0.18)" stroke-width="0.8" stroke-linejoin="round" stroke-linecap="round"/><polyline points="622.0,148.0 619.0,156.0 616.0,164.0 614.0,172.0 609.0,178.0 606.0,184.0" fill="none" stroke="rgba(0,0,0,0.18)" stroke-width="0.8" stroke-linejoin="round" stroke-linecap="round"/><polyline points="385.0,162.0 384.0,170.0 386.0,174.0 393.0,175.0 390.0,182.0 388.0,190.0 389.0,196.0 385.0,198.0 384.0,206.0 385.0,212.0" fill="none" stroke="rgba(0,0,0,0.18)" stroke-width="0.8" stroke-linejoin="round" stroke-linecap="round"/><polyline points="404.0,168.0 405.0,176.0 402.0,186.0 404.0,194.0 410.0,198.0 416.0,200.0 417.0,206.0 414.0,210.0 418.0,216.0 424.0,218.0 426.0,224.0 424.0,230.0 420.0,234.0 420.0,240.0" fill="none" stroke="rgba(0,0,0,0.18)" stroke-width="0.8" stroke-linejoin="round" stroke-linecap="round"/><polyline points="385.0,198.0 394.0,199.0 395.0,208.0 400.0,210.0 406.0,206.0 410.0,204.0 416.0,200.0" fill="none" stroke="rgba(0,0,0,0.18)" stroke-width="0.8" stroke-linejoin="round" stroke-linecap="round"/><polyline points="385.0,212.0 393.0,211.0 395.0,208.0" fill="none" stroke="rgba(0,0,0,0.18)" stroke-width="0.8" stroke-linejoin="round" stroke-linecap="round"/><polyline points="385.0,212.0 380.0,213.0 372.0,216.0 371.0,224.0 373.0,232.0 370.0,236.0 372.0,242.0 374.0,248.0" fill="none" stroke="rgba(0,0,0,0.18)" stroke-width="0.8" stroke-linejoin="round" stroke-linecap="round"/><polyline points="400.0,210.0 399.0,218.0 394.0,226.0 388.0,230.0 380.0,233.0 373.0,232.0" fill="none" stroke="rgba(0,0,0,0.18)" stroke-width="0.8" stroke-linejoin="round" stroke-linecap="round"/><polyline points="340.0,224.0 348.0,220.0 358.0,214.0 364.0,206.0 370.0,202.0 372.0,194.0 364.0,188.0 360.0,182.0 355.0,179.0" fill="none" stroke="rgba(0,0,0,0.18)" stroke-width="0.8" stroke-linejoin="round" stroke-linecap="round"/><polyline points="370.0,202.0 378.0,201.0 385.0,198.0" fill="none" stroke="rgba(0,0,0,0.18)" stroke-width="0.8" stroke-linejoin="round" stroke-linecap="round"/><polyline points="399.0,218.0 408.0,224.0 411.0,230.0 410.0,236.0 414.0,242.0 414.0,248.0" fill="none" stroke="rgba(0,0,0,0.18)" stroke-width="0.8" stroke-linejoin="round" stroke-linecap="round"/><polyline points="332.0,274.0 334.0,282.0 329.0,286.0 327.0,292.0 330.0,298.0 340.0,294.0 342.0,288.0 338.0,285.0 334.0,282.0" fill="none" stroke="rgba(0,0,0,0.18)" stroke-width="0.8" stroke-linejoin="round" stroke-linecap="round"/><polyline points="300.0,288.0 306.0,296.0 314.0,302.0 320.0,306.0 328.0,306.0 330.0,298.0" fill="none" stroke="rgba(0,0,0,0.18)" stroke-width="0.8" stroke-linejoin="round" stroke-linecap="round"/><polyline points="320.0,306.0 318.0,312.0 310.0,316.0 308.0,322.0 302.0,326.0 296.0,326.0 292.0,334.0 284.0,330.0" fill="none" stroke="rgba(0,0,0,0.18)" stroke-width="0.8" stroke-linejoin="round" stroke-linecap="round"/><polyline points="328.0,306.0 329.0,316.0 327.0,326.0 328.0,334.0 326.0,342.0 328.0,350.0 338.0,346.0 344.0,350.0" fill="none" stroke="rgba(0,0,0,0.18)" stroke-width="0.8" stroke-linejoin="round" stroke-linecap="round"/><polyline points="298.0,344.0 308.0,342.0 318.0,339.0 326.0,342.0" fill="none" stroke="rgba(0,0,0,0.18)" stroke-width="0.8" stroke-linejoin="round" stroke-linecap="round"/><polyline points="360.0,314.0 358.0,322.0 360.0,328.0 363.0,334.0 360.0,340.0 356.0,346.0 354.0,352.0 352.0,358.0" fill="none" stroke="rgba(0,0,0,0.18)" stroke-width="0.8" stroke-linejoin="round" stroke-linecap="round"/><polyline points="350.0,316.0 346.0,324.0 345.0,332.0 344.0,340.0 346.0,346.0 350.0,352.0" fill="none" stroke="rgba(0,0,0,0.18)" stroke-width="0.8" stroke-linejoin="round" stroke-linecap="round"/><polyline points="340.0,294.0 350.0,292.0 360.0,294.0 366.0,292.0" fill="none" stroke="rgba(0,0,0,0.18)" stroke-width="0.8" stroke-linejoin="round" stroke-linecap="round"/><polyline points="328.0,350.0 327.0,360.0 330.0,368.0 326.0,374.0" fill="none" stroke="rgba(0,0,0,0.18)" stroke-width="0.8" stroke-linejoin="round" stroke-linecap="round"/><polyline points="344.0,350.0 345.0,360.0 350.0,368.0" fill="none" stroke="rgba(0,0,0,0.18)" stroke-width="0.8" stroke-linejoin="round" stroke-linecap="round"/><polyline points="392.0,294.0 391.0,302.0 390.0,308.0 396.0,310.0 400.0,316.0 402.0,320.0 410.0,318.0 414.0,320.0 411.0,326.0 408.0,330.0" fill="none" stroke="rgba(0,0,0,0.18)" stroke-width="0.8" stroke-linejoin="round" stroke-linecap="round"/><polyline points="390.0,308.0 388.0,315.0" fill="none" stroke="rgba(0,0,0,0.18)" stroke-width="0.8" stroke-linejoin="round" stroke-linecap="round"/><polyline points="384.0,276.0 382.0,280.0 388.0,284.0 392.0,294.0" fill="none" stroke="rgba(0,0,0,0.18)" stroke-width="0.8" stroke-linejoin="round" stroke-linecap="round"/><polyline points="269.0,321.0 268.0,330.5 265.0,335.0 269.0,341.5 274.0,345.5 275.4,351.8 270.7,355.0 262.8,359.6 260.5,362.8" fill="none" stroke="rgba(0,0,0,0.18)" stroke-width="0.8" stroke-linejoin="round" stroke-linecap="round"/><polyline points="275.4,351.8 281.7,353.4 281.0,359.0 280.0,363.6 277.0,366.7 277.8,373.0 277.0,380.0" fill="none" stroke="rgba(0,0,0,0.18)" stroke-width="0.8" stroke-linejoin="round" stroke-linecap="round"/><polyline points="280.0,363.6 287.0,364.4 294.0,361.0 300.6,359.6" fill="none" stroke="rgba(0,0,0,0.18)" stroke-width="0.8" stroke-linejoin="round" stroke-linecap="round"/><polyline points="289.6,370.0 290.4,374.6 289.6,379.0 294.0,385.6" fill="none" stroke="rgba(0,0,0,0.18)" stroke-width="0.8" stroke-linejoin="round" stroke-linecap="round"/><polyline points="598.0,162.0 606.0,164.0 614.0,172.0" fill="none" stroke="rgba(0,0,0,0.18)" stroke-width="0.8" stroke-linejoin="round" stroke-linecap="round"/><polyline points="475.0,198.0 476.0,206.0 470.0,212.0 466.0,218.0 467.0,226.0 472.0,232.0 480.0,233.0" fill="none" stroke="rgba(0,0,0,0.18)" stroke-width="0.8" stroke-linejoin="round" stroke-linecap="round"/><polyline points="466.0,218.0 458.0,223.0 455.0,222.0" fill="none" stroke="rgba(0,0,0,0.18)" stroke-width="0.8" stroke-linejoin="round" stroke-linecap="round"/><polyline points="470.0,212.0 480.0,211.0 490.0,211.0 498.0,215.0 504.0,214.0 508.0,212.0" fill="none" stroke="rgba(0,0,0,0.18)" stroke-width="0.8" stroke-linejoin="round" stroke-linecap="round"/><polyline points="517.0,198.0 516.0,206.0 520.0,212.0" fill="none" stroke="rgba(0,0,0,0.18)" stroke-width="0.8" stroke-linejoin="round" stroke-linecap="round"/><polyline points="467.0,226.0 460.0,234.0 454.0,238.0 448.0,240.0" fill="none" stroke="rgba(0,0,0,0.18)" stroke-width="0.8" stroke-linejoin="round" stroke-linecap="round"/><polyline points="426.0,212.0 428.0,220.0 424.0,226.0 420.0,232.0 422.0,240.0 418.0,246.0 412.0,250.0" fill="none" stroke="rgba(0,0,0,0.18)" stroke-width="0.8" stroke-linejoin="round" stroke-linecap="round"/><polyline points="497.5,114.2 498.8,121.8 505.0,126.8 507.5,135.5 506.2,140.5 500.0,141.8 491.2,139.2 482.5,135.5 473.8,136.8 467.0,142.0" fill="none" stroke="rgba(0,0,0,0.18)" stroke-width="0.8" stroke-linejoin="round" stroke-linecap="round"/><polyline points="518.8,123.0 525.0,120.5 532.5,121.8 535.0,128.0 530.0,130.5 522.5,128.0 518.8,123.0" fill="none" stroke="rgba(0,0,0,0.18)" stroke-width="0.8" stroke-linejoin="round" stroke-linecap="round"/><polyline points="507.5,135.5 516.2,135.5 520.0,130.5 530.0,130.5" fill="none" stroke="rgba(0,0,0,0.18)" stroke-width="0.8" stroke-linejoin="round" stroke-linecap="round"/><polyline points="530.0,135.5 535.0,143.0 533.8,149.2 542.5,154.2 545.0,159.2 540.0,165.5 537.5,169.2 527.5,169.2 520.0,170.5 512.5,168.0 505.0,168.0 495.0,169.2" fill="none" stroke="rgba(0,0,0,0.18)" stroke-width="0.8" stroke-linejoin="round" stroke-linecap="round"/><polyline points="530.0,130.5 530.0,135.5" fill="none" stroke="rgba(0,0,0,0.18)" stroke-width="0.8" stroke-linejoin="round" stroke-linecap="round"/><polyline points="500.0,141.8 497.5,150.5 495.0,160.5 495.0,169.2" fill="none" stroke="rgba(0,0,0,0.18)" stroke-width="0.8" stroke-linejoin="round" stroke-linecap="round"/><polyline points="473.8,136.8 476.2,146.8 472.5,155.5 473.8,165.5 472.5,171.8" fill="none" stroke="rgba(0,0,0,0.18)" stroke-width="0.8" stroke-linejoin="round" stroke-linecap="round"/><polyline points="545.0,131.8 547.5,139.2 551.2,144.2 548.8,151.8 547.5,158.0 545.0,159.2" fill="none" stroke="rgba(0,0,0,0.18)" stroke-width="0.8" stroke-linejoin="round" stroke-linecap="round"/><polyline points="557.5,135.5 556.2,143.0 551.2,144.2" fill="none" stroke="rgba(0,0,0,0.18)" stroke-width="0.8" stroke-linejoin="round" stroke-linecap="round"/><polyline points="535.0,124.2 537.5,131.8 545.0,131.8" fill="none" stroke="rgba(0,0,0,0.18)" stroke-width="0.8" stroke-linejoin="round" stroke-linecap="round"/><polyline points="565.0,141.8 560.0,149.2 553.8,155.5 548.8,151.8" fill="none" stroke="rgba(0,0,0,0.18)" stroke-width="0.8" stroke-linejoin="round" stroke-linecap="round"/><polyline points="527.5,169.2 525.0,178.0 522.5,188.0 520.0,198.0 517.5,208.0" fill="none" stroke="rgba(0,0,0,0.18)" stroke-width="0.8" stroke-linejoin="round" stroke-linecap="round"/><polyline points="580.0,169.0 580.0,178.0 585.0,184.0 595.0,185.5" fill="none" stroke="rgba(0,0,0,0.18)" stroke-width="0.8" stroke-linejoin="round" stroke-linecap="round"/><polyline points="477.5,171.8 476.2,183.0 475.0,195.5 473.8,208.0 470.0,214.0" fill="none" stroke="rgba(0,0,0,0.18)" stroke-width="0.8" stroke-linejoin="round" stroke-linecap="round"/><polyline points="162.5,186.8 172.5,188.0 177.5,184.2 193.8,178.0 207.5,184.2 206.0,201.0 205.0,208.0 206.0,218.0 210.0,225.0 216.0,229.0" fill="none" stroke="rgba(0,0,0,0.42)" stroke-width="1.05" stroke-linejoin="round" stroke-linecap="round"/><polyline points="287.5,89.2 285.0,99.2 287.5,108.0 287.0,115.0 285.0,121.0 278.0,124.0 272.0,123.0 271.0,128.0 267.0,136.0 260.0,140.0 252.0,143.0 248.0,147.0 247.0,154.0 249.0,161.0 251.0,168.0 244.0,172.0 240.0,179.0 245.0,188.0 243.0,192.0 239.0,197.0 236.0,203.0 230.0,211.0 221.0,220.0 216.0,229.0" fill="none" stroke="rgba(0,0,0,0.42)" stroke-width="1.05" stroke-linejoin="round" stroke-linecap="round"/><polyline points="267.0,136.0 272.0,141.0 276.0,148.0 278.0,158.0 279.0,166.0 280.0,170.0 272.0,175.0 271.0,179.0 277.0,183.0 286.0,184.0 288.0,190.0 291.0,194.0 298.0,200.0 299.0,203.0" fill="none" stroke="rgba(0,0,0,0.42)" stroke-width="1.05" stroke-linejoin="round" stroke-linecap="round"/><polyline points="287.0,168.0 290.0,161.0 295.0,158.0 306.0,156.0 316.0,159.0 322.0,163.0 323.0,171.0 320.0,172.0 308.0,175.0 298.0,174.0 289.0,172.0 287.0,168.0" fill="none" stroke="rgba(0,0,0,0.42)" stroke-width="1.05" stroke-linejoin="round" stroke-linecap="round"/><polyline points="280.0,170.0 287.0,168.0" fill="none" stroke="rgba(0,0,0,0.42)" stroke-width="1.05" stroke-linejoin="round" stroke-linecap="round"/><polyline points="333.8,86.0 335.0,95.5 341.2,101.8 342.0,113.0 338.0,120.0 331.0,125.0 327.0,131.0 328.0,138.0 326.0,144.0 329.0,148.0 336.0,150.0 341.0,155.0 344.0,163.0 343.0,172.0 339.0,178.0 338.0,181.0" fill="none" stroke="rgba(0,0,0,0.42)" stroke-width="1.05" stroke-linejoin="round" stroke-linecap="round"/><polyline points="326.0,144.0 323.0,152.0 324.0,158.0 322.0,163.0" fill="none" stroke="rgba(0,0,0,0.42)" stroke-width="1.05" stroke-linejoin="round" stroke-linecap="round"/><polyline points="323.0,171.0 328.0,177.0 332.0,182.0 338.0,181.0 344.0,183.0 352.0,185.0 356.0,182.0 357.0,176.0 362.0,173.0 363.0,166.0 366.0,160.0 374.0,156.0 382.0,156.0" fill="none" stroke="rgba(0,0,0,0.42)" stroke-width="1.05" stroke-linejoin="round" stroke-linecap="round"/><polyline points="308.0,175.0 311.0,178.0 315.0,187.0 312.0,192.0 306.0,198.0 299.0,203.0 297.0,210.0 299.0,218.0 303.0,226.0 309.0,233.0 313.0,240.0 314.0,246.0 312.0,254.0 313.0,262.0 315.0,262.0" fill="none" stroke="rgba(0,0,0,0.42)" stroke-width="1.05" stroke-linejoin="round" stroke-linecap="round"/><polyline points="352.0,185.0 350.0,192.0 346.0,197.0 341.0,200.0 334.0,205.0 332.0,212.0 333.0,222.0 336.0,232.0 339.0,238.0 342.0,242.0 346.0,248.0 348.0,253.0 354.0,255.0 362.0,252.0 370.0,248.0" fill="none" stroke="rgba(0,0,0,0.42)" stroke-width="1.05" stroke-linejoin="round" stroke-linecap="round"/><polyline points="216.0,229.0 213.0,234.0 202.0,241.0 194.0,249.0 188.0,253.0 183.6,254.9" fill="none" stroke="rgba(0,0,0,0.42)" stroke-width="1.05" stroke-linejoin="round" stroke-linecap="round"/><polyline points="190.0,250.0 195.0,251.0 197.0,258.0 202.0,259.0 208.0,258.0 215.0,255.0 214.0,250.0 211.0,246.0 214.0,243.0 221.0,241.0 230.0,238.0 236.0,239.0 244.0,242.0 253.0,236.0 260.0,233.0 266.0,228.0 271.0,225.0" fill="none" stroke="rgba(0,0,0,0.42)" stroke-width="1.05" stroke-linejoin="round" stroke-linecap="round"/><polyline points="271.0,225.0 273.0,234.0 276.0,244.0 280.0,251.0 281.0,255.0 288.0,257.0 296.0,260.0 302.0,263.0 312.0,262.0 314.0,265.0 317.0,268.0 315.0,272.0 309.0,275.0 306.0,278.0 307.0,285.0 310.0,284.0" fill="none" stroke="rgba(0,0,0,0.42)" stroke-width="1.05" stroke-linejoin="round" stroke-linecap="round"/><polyline points="315.0,262.0 320.0,264.0 326.0,261.0 334.0,266.0 340.0,268.0 346.0,266.0 352.0,260.0 354.0,254.0" fill="none" stroke="rgba(0,0,0,0.42)" stroke-width="1.05" stroke-linejoin="round" stroke-linecap="round"/><polyline points="354.0,254.0 360.0,253.0 368.0,250.0 376.0,248.0 379.0,254.0 384.0,257.0 390.0,258.0 391.0,262.0 396.0,266.0 400.0,273.0 408.0,272.0 414.0,277.0 420.0,281.0 425.0,287.0" fill="none" stroke="rgba(0,0,0,0.42)" stroke-width="1.05" stroke-linejoin="round" stroke-linecap="round"/><polyline points="391.0,262.0 388.0,263.0 380.0,265.0 374.0,268.0 369.0,274.0 368.0,282.0 372.0,287.0 373.0,292.0 370.0,298.0 368.0,304.0 364.0,309.0 360.0,312.0 362.0,315.0 368.0,315.0 378.0,316.0 384.0,314.0 388.0,315.0 394.0,318.0 398.0,320.0 400.0,328.0 402.0,336.0" fill="none" stroke="rgba(0,0,0,0.42)" stroke-width="1.05" stroke-linejoin="round" stroke-linecap="round"/><polyline points="183.6,254.9 182.0,266.0 187.0,271.0 194.0,274.0 200.0,281.0 210.0,278.0 218.0,272.0 223.0,269.0" fill="none" stroke="rgba(0,0,0,0.42)" stroke-width="1.05" stroke-linejoin="round" stroke-linecap="round"/><polyline points="223.0,269.0 221.0,276.0 225.0,281.0 223.0,287.0 230.0,289.0 238.0,288.0 244.0,284.0 247.0,281.0 256.0,282.0 266.0,281.0 274.0,282.0 281.0,286.0 287.0,290.0 290.0,295.0" fill="none" stroke="rgba(0,0,0,0.42)" stroke-width="1.05" stroke-linejoin="round" stroke-linecap="round"/><polyline points="290.0,295.0 296.0,290.0 306.0,287.0 310.0,284.0" fill="none" stroke="rgba(0,0,0,0.42)" stroke-width="1.05" stroke-linejoin="round" stroke-linecap="round"/><polyline points="290.0,295.0 288.0,301.0 282.0,303.0 279.0,308.0 280.0,316.0 281.0,320.0" fill="none" stroke="rgba(0,0,0,0.42)" stroke-width="1.05" stroke-linejoin="round" stroke-linecap="round"/><polyline points="281.0,320.0 276.0,321.0 270.0,321.0 264.0,325.0 256.0,327.0 248.0,330.0 240.0,331.0 235.0,332.0 238.0,337.0 242.0,344.0 246.0,350.0 252.0,352.0 258.0,358.0 262.0,364.0 266.0,368.0 271.0,374.0 276.2,380.1" fill="none" stroke="rgba(0,0,0,0.42)" stroke-width="1.05" stroke-linejoin="round" stroke-linecap="round"/><polyline points="281.0,320.0 284.9,330.6 291.0,336.9 295.9,344.7 298.2,349.4 299.0,355.7 302.0,362.0 303.7,371.4" fill="none" stroke="rgba(0,0,0,0.42)" stroke-width="1.05" stroke-linejoin="round" stroke-linecap="round"/><polyline points="168.6,275.4 170.0,280.0 178.0,284.0 183.0,290.0 186.0,298.0 187.0,306.0 192.0,311.0 193.0,318.0 196.0,323.0 195.0,328.0 190.0,333.0 187.0,340.0 188.0,347.0 194.0,353.0 202.0,356.0 207.0,356.0" fill="none" stroke="rgba(0,0,0,0.42)" stroke-width="1.05" stroke-linejoin="round" stroke-linecap="round"/><polyline points="428.0,171.0 427.0,175.0 429.0,178.0 428.0,186.0 425.0,194.0 426.0,201.0 430.0,206.0 436.0,212.0 442.0,217.0 448.0,219.0 455.0,222.0 454.0,228.0 451.0,233.0 448.0,240.0 444.0,246.0 438.0,249.0 433.0,251.0 432.0,257.0 435.0,262.0 435.0,268.0 430.0,274.0 425.0,287.0" fill="none" stroke="rgba(0,0,0,0.42)" stroke-width="1.05" stroke-linejoin="round" stroke-linecap="round"/><polyline points="429.0,178.0 438.0,180.0 448.0,180.0 458.0,178.0 468.0,175.0 474.0,170.0 482.0,171.0 492.0,169.0 495.0,175.0 497.0,182.0 496.0,190.0 495.0,198.0 498.0,204.0 502.0,210.0 508.0,212.0 516.0,211.0 520.0,212.0" fill="none" stroke="rgba(0,0,0,0.42)" stroke-width="1.05" stroke-linejoin="round" stroke-linecap="round"/><polyline points="592.0,141.0 588.0,148.0 584.0,154.0 579.0,160.0 577.0,168.0 572.0,170.0 564.0,171.0 556.0,172.0 550.0,170.0 543.0,172.0 540.0,176.0 542.0,182.0 548.0,187.0 551.0,192.0 555.0,196.0 560.0,197.0 564.0,195.0" fill="none" stroke="rgba(0,0,0,0.42)" stroke-width="1.05" stroke-linejoin="round" stroke-linecap="round"/><polyline points="425.0,287.0 426.0,296.0 431.0,301.0" fill="none" stroke="rgba(0,0,0,0.42)" stroke-width="1.05" stroke-linejoin="round" stroke-linecap="round"/></g>
<polygon points="131.4,280.1 135.0,268.0 140.0,259.2 141.2,249.2 136.2,241.8 130.0,233.0 127.5,221.8 131.2,214.2 138.8,208.0 141.2,201.8 150.0,196.8 157.5,190.5 162.5,186.8 165.0,179.2 169.5,175.0 171.2,170.5 175.0,159.2 177.5,151.8 187.5,149.2 195.0,147.5 193.8,141.8 197.5,134.2 201.2,132.5 203.8,136.8 210.0,136.8 218.8,128.0 227.0,119.2 231.2,109.2 243.8,109.2 257.5,109.2 271.2,108.0 281.2,104.2 285.0,95.5 287.5,89.2 297.5,88.0 302.5,81.8 305.0,74.2 312.5,76.0 320.0,81.8 322.5,85.0 333.8,86.0 348.8,88.5 351.2,91.8 355.0,90.5 361.2,90.0 363.8,85.0 372.5,83.0 381.2,86.8 385.0,95.5 391.2,103.0 396.2,110.5 405.0,111.8 410.0,114.2 406.2,124.2 402.5,119.2 393.8,119.2 386.2,125.5 381.2,135.5 382.5,145.5 383.8,155.5 388.8,159.2 395.0,165.5 405.0,169.2 422.5,170.0 437.5,168.0 446.2,163.0 447.5,153.0 455.0,146.8 466.2,140.5 473.8,133.0 476.2,126.8 473.0,123.5 480.0,120.5 490.0,117.5 500.0,114.2 508.8,110.5 520.0,112.5 530.0,118.0 536.2,124.2 540.0,130.5 550.0,131.8 552.0,126.8 556.2,130.5 557.5,136.8 566.2,142.5 571.2,140.5 580.0,141.2 591.2,140.0 597.5,135.5 603.8,133.5 607.5,139.2 612.5,141.8 620.0,145.5 628.8,146.8 632.5,145.0 641.2,145.0 644.5,147.5 640.0,150.5 635.0,151.8 636.2,158.0 638.8,163.0 635.0,168.0 630.0,173.0 627.5,176.8 633.8,178.0 633.0,184.2 627.5,186.8 623.8,189.2 618.8,191.8 612.5,191.8 610.0,188.0 606.2,186.8 605.0,184.2 600.0,185.5 592.5,186.8 583.8,190.5 575.0,194.2 570.0,196.8 567.5,200.5 562.5,195.5 557.5,199.2 552.5,201.8 545.0,205.5 537.5,208.0 530.0,213.0 522.5,214.2 516.2,211.8 521.2,218.0 520.0,224.2 517.5,230.5 513.8,228.0 507.5,230.5 506.2,235.5 501.2,239.2 503.8,251.8 495.0,254.2 487.5,256.8 480.0,259.2 476.2,259.2 475.0,264.2 472.5,269.2 467.5,271.8 461.2,278.0 456.2,283.0 451.2,288.0 447.5,293.0 441.2,295.5 437.5,296.8 433.8,300.5 431.2,308.0 427.5,313.0 423.8,319.2 418.8,325.5 415.0,333.0 410.0,338.0 405.0,336.8 398.8,338.0 390.0,341.8 378.8,343.5 377.5,348.0 373.8,354.2 370.0,359.2 371.2,364.2 365.0,368.0 356.2,371.8 350.0,374.2 348.8,384.2 343.8,390.5 335.0,393.0 328.8,395.5 330.0,390.5 332.5,385.5 326.2,383.0 325.0,376.8 318.8,375.5 313.8,373.0 303.8,374.2 304.5,379.3 302.9,384.0 297.4,383.2 294.3,385.6 288.8,388.7 283.3,387.9 278.6,384.0 276.2,380.1 273.9,380.1 268.4,383.2 267.6,387.1 264.4,391.1 260.5,390.3 258.1,384.0 256.6,378.5 251.9,373.0 248.7,366.7 244.0,362.0 241.6,356.5 237.7,353.4 231.4,351.8 223.6,351.8 215.7,353.4 207.1,355.7 204.7,365.1 203.1,371.4 200.0,377.7 195.0,379.2 187.5,381.8 177.5,379.2 165.0,381.8 155.0,381.8 146.2,380.5 140.0,375.5 138.8,368.0 136.2,360.5 127.5,358.0 122.5,353.0 117.5,346.8 111.2,348.0 101.2,346.8 96.2,340.5 97.5,333.0 101.2,329.2 106.2,320.5 112.5,314.2 121.2,310.5 130.0,305.5 136.2,296.8 141.4,288.0 154.3,283.7 158.6,278.7 168.6,275.4 169.3,270.9 174.3,266.6 180.7,266.6 182.1,260.9 183.6,254.9 177.1,258.0 165.7,262.3 155.7,266.6 148.6,270.1 138.6,275.1" fill="none" stroke="#111" stroke-width="1.3" stroke-linejoin="round"/>
<polygon points="464.0,250.0 468.0,247.0 474.0,248.0 479.0,245.0 482.0,248.0 480.0,253.0 477.5,257.0 475.5,261.5 472.0,258.0 467.0,256.0 464.0,253.0" fill="#fff" stroke="#111" stroke-width="1.1" stroke-linejoin="round"/>
<ellipse cx="520" cy="63.6" rx="1.2" ry="2.4" transform="rotate(0 520 63.6)" fill="#111"/>
<ellipse cx="514.3" cy="68.6" rx="2.5" ry="1.3" transform="rotate(-48 514.3 68.6)" fill="#111"/>
<ellipse cx="508.6" cy="80.7" rx="1.8" ry="2.1" transform="rotate(-20 508.6 80.7)" fill="#111"/>
<ellipse cx="516.1" cy="90.0" rx="0.7" ry="0.7" transform="rotate(0 516.1 90.0)" fill="#111"/>
<ellipse cx="517.1" cy="94.0" rx="0.9" ry="0.9" transform="rotate(0 517.1 94.0)" fill="#111"/>
<ellipse cx="521.7" cy="93.6" rx="1.0" ry="1.0" transform="rotate(0 521.7 93.6)" fill="#111"/>
<ellipse cx="499.3" cy="99.3" rx="1.8" ry="1.5" transform="rotate(0 499.3 99.3)" fill="#111"/>
<ellipse cx="505" cy="97.9" rx="1.5" ry="1.7" transform="rotate(0 505 97.9)" fill="#111"/>
<ellipse cx="504" cy="101.3" rx="0.9" ry="0.9" transform="rotate(0 504 101.3)" fill="#111"/>
<ellipse cx="507.9" cy="102.3" rx="1.4" ry="2.8" transform="rotate(-15 507.9 102.3)" fill="#111"/>
<ellipse cx="487.4" cy="114.6" rx="1.0" ry="1.0" transform="rotate(0 487.4 114.6)" fill="#111"/>
<ellipse cx="468.7" cy="283.0" rx="1.5" ry="1.5" transform="rotate(0 468.7 283.0)" fill="#111"/>
<ellipse cx="477.6" cy="267.8" rx="0.8" ry="0.8" transform="rotate(0 477.6 267.8)" fill="#111"/>
<ellipse cx="491.3" cy="266.8" rx="0.7" ry="0.7" transform="rotate(0 491.3 266.8)" fill="#111"/>
<ellipse cx="517.6" cy="272.6" rx="0.8" ry="0.8" transform="rotate(0 517.6 272.6)" fill="#111"/>
<ellipse cx="523.7" cy="228.3" rx="1.0" ry="1.0" transform="rotate(0 523.7 228.3)" fill="#111"/>
<ellipse cx="522.4" cy="248.7" rx="0.6" ry="0.6" transform="rotate(0 522.4 248.7)" fill="#111"/>
<ellipse cx="613" cy="200.8" rx="0.8" ry="0.8" transform="rotate(0 613 200.8)" fill="#111"/>
<ellipse cx="560" cy="133.0" rx="1.0" ry="0.7" transform="rotate(0 560 133.0)" fill="#111"/>
<ellipse cx="608" cy="137.0" rx="0.7" ry="0.7" transform="rotate(0 608 137.0)" fill="#111"/>
<ellipse cx="450" cy="336.0" rx="0.6" ry="0.6" transform="rotate(0 450 336.0)" fill="#111"/>
<ellipse cx="445" cy="347.5" rx="0.6" ry="0.6" transform="rotate(0 445 347.5)" fill="#111"/>
<text x="305.5" y="125" font-size="8.2" text-anchor="middle" fill="#222" fill-opacity="1" class="cn">滨州</text>
<text x="367" y="134.5" font-size="8.2" text-anchor="middle" fill="#222" fill-opacity="1" class="cn">东营</text>
<text x="219" y="159.5" font-size="8.2" text-anchor="middle" fill="#222" fill-opacity="1" class="cn">德州</text>
<text x="517" y="152.5" font-size="8.2" text-anchor="middle" fill="#222" fill-opacity="1" class="cn">烟台</text>
<text x="604.5" y="163.5" font-size="8.2" text-anchor="middle" fill="#222" fill-opacity="1" class="cn">威海</text>
<text x="266.5" y="209.5" font-size="8.2" text-anchor="middle" fill="#222" fill-opacity="1" class="cn">济南</text>
<text x="321" y="215.5" font-size="8.2" text-anchor="middle" fill="#222" fill-opacity="1" class="cn">淄博</text>
<text x="392.5" y="218.5" font-size="8.2" text-anchor="middle" fill="#222" fill-opacity="1" class="cn">潍坊</text>
<text x="474.5" y="222.5" font-size="8.2" text-anchor="middle" fill="#222" fill-opacity="1" class="cn">青岛</text>
<text x="178" y="228" font-size="8.2" text-anchor="middle" fill="#222" fill-opacity="1" class="cn">聊城</text>
<text x="250.5" y="267" font-size="8.2" text-anchor="middle" fill="#222" fill-opacity="1" class="cn">泰安</text>
<text x="403" y="302" font-size="8.2" text-anchor="middle" fill="#222" fill-opacity="0.55" class="cn">日照</text>
<text x="224.5" y="314" font-size="8.2" text-anchor="middle" fill="#222" fill-opacity="0.55" class="cn">济宁</text>
<text x="338.5" y="321.5" font-size="8.2" text-anchor="middle" fill="#222" fill-opacity="0.55" class="cn">临沂</text>
<text x="153" y="336" font-size="8.2" text-anchor="middle" fill="#222" fill-opacity="0.4" class="cn">菏泽</text>
<text x="285" y="356" font-size="8.2" text-anchor="middle" fill="#222" fill-opacity="0.4" class="cn">枣庄</text>
<text x="170.5" y="67" font-size="12.5" letter-spacing="0.1" text-anchor="middle" class="cn" fill="#111">山东省逐24小时降水预报图</text>
<text x="171" y="79.8" font-size="9.6" text-anchor="middle" class="cn" fill="#111">2024年07月08日20时-09日20时</text>
<text x="170.5" y="94" font-size="8.2" text-anchor="middle" class="cn" fill="#111">山东省气象台</text>
<rect x="593.3" y="226.20" width="8.6" height="22.02" fill="#860a4c" stroke="#5a0632" stroke-width="0.8"/>
<rect x="593.3" y="248.22" width="8.6" height="22.02" fill="#f402f2" stroke="#b000b0" stroke-width="0.8"/>
<rect x="593.3" y="270.24" width="8.6" height="22.02" fill="#0a0ae2" stroke="#0606a0" stroke-width="0.8"/>
<rect x="593.3" y="292.26" width="8.6" height="22.02" fill="#68b2e4" stroke="#3f86b8" stroke-width="0.8"/>
<rect x="593.3" y="314.28" width="8.6" height="22.02" fill="#42b645" stroke="#2f8f32" stroke-width="0.8"/>
<rect x="593.3" y="336.30" width="8.6" height="22.02" fill="#a9f18d" stroke="#3f9a3a" stroke-width="0.8"/>
<text x="605" y="250.0" font-size="6.2" class="cn" fill="#222">250</text>
<text x="605" y="272.0" font-size="6.2" class="cn" fill="#222">100</text>
<text x="605" y="294.0" font-size="6.2" class="cn" fill="#222">50</text>
<text x="605" y="316.1" font-size="6.2" class="cn" fill="#222">25</text>
<text x="605" y="338.1" font-size="6.2" class="cn" fill="#222">10</text>
<text x="604.5" y="360" font-size="6.2" class="cn" fill="#222">0.1</text>
<text x="608" y="371" font-size="8.3" font-weight="bold" text-anchor="middle" class="cn" fill="#111">单位：毫米</text>
<text x="645.8" y="396.2" font-size="7.9" font-weight="bold" text-anchor="end" class="cn" fill="#222">2024年07月07日16时制作</text>
<text x="645.8" y="405.2" font-size="6.4" text-anchor="end" class="cn" fill="#8f8f8f">审图号：GS(2017)3320号</text>
</g>
<g transform="translate(0,432)">
<rect x="83.5" y="49" width="569" height="358.5" fill="#fff" stroke="#6e6e6e" stroke-width="1.2"/>
<g clip-path="url(#prov)"><polygon points="492.0,113.0 490.0,116.0 486.5,123.0 481.5,133.0 476.0,143.0 470.0,155.5 461.0,168.0 452.5,180.5 443.0,192.0 437.0,199.0 427.0,212.0 416.0,228.0 412.0,238.0 400.0,249.0 388.0,261.0 376.0,274.0 368.0,283.0 360.0,288.0 352.0,291.5 344.0,294.5 332.0,300.0 320.0,305.5 308.0,310.0 296.0,313.0 286.0,315.5 280.0,317.5 270.0,319.0 260.0,321.0 252.0,325.0 244.0,331.0 238.0,337.0 232.0,344.0 229.0,352.0 225.0,368.0 240.0,398.0 330.0,398.0 332.5,384.2 340.0,380.5 347.5,373.0 352.5,365.5 360.0,361.8 367.5,356.8 377.5,346.8 395.0,343.0 440.0,328.0 520.0,268.0 660.0,208.0 660.0,98.0 500.0,98.0" fill="#a9f18d"/><polygon points="148.8,350.5 150.0,351.8 148.8,363.0 146.2,364.2 145.5,358.0 147.5,351.8" fill="#a9f18d"/><polygon points="524.0,214.0 520.0,215.0 514.0,217.0 506.0,222.0 498.0,225.0 491.0,228.0 484.0,233.0 476.0,235.0 470.0,237.0 464.0,242.0 454.0,244.0 446.0,247.0 440.0,249.5 432.0,251.0 428.0,254.0 420.0,260.0 412.0,268.0 404.0,275.0 394.0,282.0 384.0,288.0 376.0,294.0 370.0,300.0 364.0,308.0 358.0,312.0 352.0,316.0 346.0,321.0 341.0,326.0 337.0,334.0 336.2,341.8 343.8,348.0 351.2,351.8 357.5,353.0 367.5,354.2 375.0,350.5 378.8,343.5 390.0,341.8 398.8,338.0 410.0,338.0 440.0,318.0 480.0,268.0 530.0,238.0" fill="#42b645"/><polygon points="507.0,236.0 500.0,239.0 494.0,242.0 488.0,245.0 482.0,248.0 475.0,254.0 468.0,258.0 460.0,260.0 454.0,262.0 444.0,263.0 436.0,263.0 435.0,268.0 428.0,273.5 420.0,278.5 412.0,282.0 404.0,286.5 396.0,291.5 388.0,296.0 380.0,300.0 372.0,306.0 368.0,312.0 366.0,318.0 367.0,329.2 398.8,330.5 400.0,335.5 412.5,336.8 440.0,318.0 480.0,268.0 515.0,253.0" fill="#68b2e4"/></g>
<polyline points="233.8,109.2 245.0,111.8 248.8,120.5 246.2,128.0 241.2,129.2 227.5,131.8 218.8,136.8 210.0,144.2 203.8,155.5 197.5,156.8 195.0,148.0" fill="none" stroke="rgba(0,0,0,0.42)" stroke-width="0.8" stroke-linejoin="round" stroke-linecap="round"/><polyline points="241.2,129.2 243.8,136.8 240.0,148.0 236.2,158.0 226.2,163.0 217.5,171.8 207.5,184.2" fill="none" stroke="rgba(0,0,0,0.42)" stroke-width="0.8" stroke-linejoin="round" stroke-linecap="round"/><polyline points="171.2,170.5 185.0,166.8 192.5,169.2 193.8,178.0" fill="none" stroke="rgba(0,0,0,0.42)" stroke-width="0.8" stroke-linejoin="round" stroke-linecap="round"/><polyline points="197.5,156.8 192.5,169.2" fill="none" stroke="rgba(0,0,0,0.42)" stroke-width="0.8" stroke-linejoin="round" stroke-linecap="round"/><polyline points="203.8,155.5 212.5,159.2 226.2,163.0" fill="none" stroke="rgba(0,0,0,0.42)" stroke-width="0.8" stroke-linejoin="round" stroke-linecap="round"/><polyline points="226.2,163.0 228.8,173.0 240.0,179.2" fill="none" stroke="rgba(0,0,0,0.42)" stroke-width="0.8" stroke-linejoin="round" stroke-linecap="round"/><polyline points="228.8,173.0 226.2,188.0 223.8,201.0" fill="none" stroke="rgba(0,0,0,0.42)" stroke-width="0.8" stroke-linejoin="round" stroke-linecap="round"/><polyline points="248.8,120.5 258.0,116.0 265.0,113.0 272.0,109.0" fill="none" stroke="rgba(0,0,0,0.42)" stroke-width="0.8" stroke-linejoin="round" stroke-linecap="round"/><polyline points="180.0,189.0 179.0,198.0 172.0,207.0 160.0,206.0 150.0,208.0 140.0,209.0" fill="none" stroke="rgba(0,0,0,0.42)" stroke-width="0.8" stroke-linejoin="round" stroke-linecap="round"/><polyline points="179.0,198.0 188.0,204.0 196.0,203.0 204.0,207.0 206.0,208.0" fill="none" stroke="rgba(0,0,0,0.42)" stroke-width="0.8" stroke-linejoin="round" stroke-linecap="round"/><polyline points="172.0,207.0 171.0,216.0 177.0,219.0 188.0,221.0 193.0,224.0 192.0,229.0 184.0,233.0 170.0,238.0 158.0,239.0 156.0,230.0 160.0,218.0 160.0,206.0" fill="none" stroke="rgba(0,0,0,0.42)" stroke-width="0.8" stroke-linejoin="round" stroke-linecap="round"/><polyline points="156.0,230.0 144.0,232.0 133.0,232.0" fill="none" stroke="rgba(0,0,0,0.42)" stroke-width="0.8" stroke-linejoin="round" stroke-linecap="round"/><polyline points="158.0,239.0 156.0,248.0 155.0,258.0 156.0,266.0" fill="none" stroke="rgba(0,0,0,0.42)" stroke-width="0.8" stroke-linejoin="round" stroke-linecap="round"/><polyline points="184.0,233.0 182.0,240.0 184.0,248.0 182.0,254.0" fill="none" stroke="rgba(0,0,0,0.42)" stroke-width="0.8" stroke-linejoin="round" stroke-linecap="round"/><polyline points="192.0,229.0 200.0,226.0 208.0,225.0" fill="none" stroke="rgba(0,0,0,0.42)" stroke-width="0.8" stroke-linejoin="round" stroke-linecap="round"/><polyline points="208.0,208.0 216.0,206.0 220.0,198.0 226.0,190.0 229.0,180.0 228.0,172.0" fill="none" stroke="rgba(0,0,0,0.42)" stroke-width="0.8" stroke-linejoin="round" stroke-linecap="round"/><polyline points="156.0,288.0 157.5,300.5 156.0,312.0 165.0,315.5 164.0,328.0 164.0,337.0 162.5,348.0 160.0,354.0 167.5,360.5 165.0,370.5 164.0,382.0" fill="none" stroke="rgba(0,0,0,0.42)" stroke-width="0.8" stroke-linejoin="round" stroke-linecap="round"/><polyline points="121.0,310.5 127.5,312.0 140.0,313.0 156.0,312.0" fill="none" stroke="rgba(0,0,0,0.42)" stroke-width="0.8" stroke-linejoin="round" stroke-linecap="round"/><polyline points="165.0,315.5 175.0,312.0 186.0,305.5" fill="none" stroke="rgba(0,0,0,0.42)" stroke-width="0.8" stroke-linejoin="round" stroke-linecap="round"/><polyline points="126.0,315.5 125.0,325.5 122.5,342.0 117.5,347.0" fill="none" stroke="rgba(0,0,0,0.42)" stroke-width="0.8" stroke-linejoin="round" stroke-linecap="round"/><polyline points="122.5,342.0 134.0,343.0 149.0,347.0 162.5,348.0" fill="none" stroke="rgba(0,0,0,0.42)" stroke-width="0.8" stroke-linejoin="round" stroke-linecap="round"/><polyline points="134.0,343.0 132.5,338.0 145.0,334.0 164.0,337.0" fill="none" stroke="rgba(0,0,0,0.42)" stroke-width="0.8" stroke-linejoin="round" stroke-linecap="round"/><polyline points="164.0,337.0 175.0,335.5 186.0,338.0 188.5,342.0" fill="none" stroke="rgba(0,0,0,0.42)" stroke-width="0.8" stroke-linejoin="round" stroke-linecap="round"/><polyline points="160.0,354.0 177.5,352.0 181.0,353.0 188.5,349.0" fill="none" stroke="rgba(0,0,0,0.42)" stroke-width="0.8" stroke-linejoin="round" stroke-linecap="round"/><polyline points="167.5,360.5 175.0,362.0 180.0,354.0" fill="none" stroke="rgba(0,0,0,0.42)" stroke-width="0.8" stroke-linejoin="round" stroke-linecap="round"/><polyline points="187.0,295.0 200.0,297.0 207.0,303.0 220.0,300.0 220.0,290.0 223.0,286.0" fill="none" stroke="rgba(0,0,0,0.42)" stroke-width="0.8" stroke-linejoin="round" stroke-linecap="round"/><polyline points="200.0,297.0 201.0,286.0 200.0,278.0" fill="none" stroke="rgba(0,0,0,0.42)" stroke-width="0.8" stroke-linejoin="round" stroke-linecap="round"/><polyline points="220.0,300.0 230.0,302.0 238.0,304.0 239.0,296.0 238.0,288.0" fill="none" stroke="rgba(0,0,0,0.42)" stroke-width="0.8" stroke-linejoin="round" stroke-linecap="round"/><polyline points="238.0,304.0 250.0,305.0 260.0,306.0 264.0,303.0 258.0,298.0 255.0,292.0 256.0,282.0" fill="none" stroke="rgba(0,0,0,0.42)" stroke-width="0.8" stroke-linejoin="round" stroke-linecap="round"/><polyline points="260.0,306.0 270.0,308.0 279.0,308.0" fill="none" stroke="rgba(0,0,0,0.42)" stroke-width="0.8" stroke-linejoin="round" stroke-linecap="round"/><polyline points="207.0,303.0 209.0,312.0 210.0,322.0 206.0,326.0 196.0,323.0" fill="none" stroke="rgba(0,0,0,0.42)" stroke-width="0.8" stroke-linejoin="round" stroke-linecap="round"/><polyline points="210.0,322.0 217.0,323.0 219.0,316.0 224.0,310.0 230.0,302.0" fill="none" stroke="rgba(0,0,0,0.42)" stroke-width="0.8" stroke-linejoin="round" stroke-linecap="round"/><polyline points="219.0,316.0 222.0,324.0 227.0,322.0 230.0,314.0 238.0,304.0" fill="none" stroke="rgba(0,0,0,0.42)" stroke-width="0.8" stroke-linejoin="round" stroke-linecap="round"/><polyline points="217.0,323.0 218.0,332.0 221.0,340.0 228.0,346.0 232.0,344.0" fill="none" stroke="rgba(0,0,0,0.42)" stroke-width="0.8" stroke-linejoin="round" stroke-linecap="round"/><polyline points="218.0,332.0 210.0,336.0 207.0,342.0 208.0,353.0" fill="none" stroke="rgba(0,0,0,0.42)" stroke-width="0.8" stroke-linejoin="round" stroke-linecap="round"/><polyline points="231.0,314.0 231.0,324.0 233.0,330.0 235.0,332.0" fill="none" stroke="rgba(0,0,0,0.42)" stroke-width="0.8" stroke-linejoin="round" stroke-linecap="round"/><polyline points="190.0,333.0 200.0,328.0 206.0,326.0" fill="none" stroke="rgba(0,0,0,0.42)" stroke-width="0.8" stroke-linejoin="round" stroke-linecap="round"/><polyline points="234.0,212.0 242.0,211.0 250.0,214.0 258.0,212.0 260.0,206.0 270.0,203.0 272.0,196.0 268.0,190.0" fill="none" stroke="rgba(0,0,0,0.42)" stroke-width="0.8" stroke-linejoin="round" stroke-linecap="round"/><polyline points="250.0,214.0 252.0,220.0 258.0,223.0 268.0,220.0 273.0,212.0 270.0,203.0" fill="none" stroke="rgba(0,0,0,0.42)" stroke-width="0.8" stroke-linejoin="round" stroke-linecap="round"/><polyline points="239.0,197.0 245.0,200.0 249.0,195.0 256.0,194.0 260.0,188.0" fill="none" stroke="rgba(0,0,0,0.42)" stroke-width="0.8" stroke-linejoin="round" stroke-linecap="round"/><polyline points="234.0,212.0 240.0,221.0 248.0,230.0 253.0,236.0" fill="none" stroke="rgba(0,0,0,0.42)" stroke-width="0.8" stroke-linejoin="round" stroke-linecap="round"/><polyline points="258.0,223.0 256.0,231.0" fill="none" stroke="rgba(0,0,0,0.42)" stroke-width="0.8" stroke-linejoin="round" stroke-linecap="round"/><polyline points="271.0,225.0 282.0,222.0 290.0,219.0 297.0,218.0" fill="none" stroke="rgba(0,0,0,0.42)" stroke-width="0.8" stroke-linejoin="round" stroke-linecap="round"/><polyline points="253.0,236.0 255.0,242.0 252.0,248.0 260.0,254.0 270.0,248.0 266.0,242.0 258.0,238.0" fill="none" stroke="rgba(0,0,0,0.42)" stroke-width="0.8" stroke-linejoin="round" stroke-linecap="round"/><polyline points="238.0,241.0 237.0,250.0 240.0,258.0 230.0,266.0 223.0,269.0" fill="none" stroke="rgba(0,0,0,0.42)" stroke-width="0.8" stroke-linejoin="round" stroke-linecap="round"/><polyline points="240.0,258.0 250.0,266.0 260.0,268.0 268.0,274.0 274.0,281.0" fill="none" stroke="rgba(0,0,0,0.42)" stroke-width="0.8" stroke-linejoin="round" stroke-linecap="round"/><polyline points="260.0,268.0 266.0,262.0 279.0,258.0" fill="none" stroke="rgba(0,0,0,0.42)" stroke-width="0.8" stroke-linejoin="round" stroke-linecap="round"/><polyline points="238.0,248.0 242.0,258.0 256.0,268.0" fill="none" stroke="rgba(0,0,0,0.42)" stroke-width="0.8" stroke-linejoin="round" stroke-linecap="round"/><polyline points="314.0,188.0 314.0,194.0 318.0,202.0 328.0,203.0 332.0,198.0 330.0,190.0" fill="none" stroke="rgba(0,0,0,0.42)" stroke-width="0.8" stroke-linejoin="round" stroke-linecap="round"/><polyline points="299.0,218.0 308.0,215.0 316.0,218.0 324.0,224.0 333.0,222.0" fill="none" stroke="rgba(0,0,0,0.42)" stroke-width="0.8" stroke-linejoin="round" stroke-linecap="round"/><polyline points="316.0,218.0 318.0,228.0 326.0,232.0 336.0,232.0" fill="none" stroke="rgba(0,0,0,0.42)" stroke-width="0.8" stroke-linejoin="round" stroke-linecap="round"/><polyline points="309.0,233.0 318.0,228.0" fill="none" stroke="rgba(0,0,0,0.42)" stroke-width="0.8" stroke-linejoin="round" stroke-linecap="round"/><polyline points="297.0,256.0 298.0,250.0 304.0,244.0 312.0,241.0" fill="none" stroke="rgba(0,0,0,0.42)" stroke-width="0.8" stroke-linejoin="round" stroke-linecap="round"/><polyline points="332.0,228.0 342.0,223.0 352.0,218.0 358.0,213.0 370.0,215.0" fill="none" stroke="rgba(0,0,0,0.42)" stroke-width="0.8" stroke-linejoin="round" stroke-linecap="round"/><polyline points="362.0,188.0 364.0,196.0 370.0,200.0" fill="none" stroke="rgba(0,0,0,0.42)" stroke-width="0.8" stroke-linejoin="round" stroke-linecap="round"/><polyline points="322.5,85.0 321.0,95.5 319.0,104.0 312.5,110.5 310.0,118.0 307.5,124.0" fill="none" stroke="rgba(0,0,0,0.42)" stroke-width="0.8" stroke-linejoin="round" stroke-linecap="round"/><polyline points="286.0,119.0 297.5,120.5 307.5,124.0 316.0,130.5 326.0,127.0" fill="none" stroke="rgba(0,0,0,0.42)" stroke-width="0.8" stroke-linejoin="round" stroke-linecap="round"/><polyline points="307.5,124.0 305.0,133.0 304.0,140.5 306.0,156.0" fill="none" stroke="rgba(0,0,0,0.42)" stroke-width="0.8" stroke-linejoin="round" stroke-linecap="round"/><polyline points="276.0,134.0 281.0,133.0 289.0,135.5 294.0,139.0 300.0,134.0 305.0,133.0" fill="none" stroke="rgba(0,0,0,0.42)" stroke-width="0.8" stroke-linejoin="round" stroke-linecap="round"/><polyline points="341.0,108.0 350.0,112.0 357.5,110.5 367.5,114.0 375.0,105.5 385.0,98.0" fill="none" stroke="rgba(0,0,0,0.42)" stroke-width="0.8" stroke-linejoin="round" stroke-linecap="round"/><polyline points="335.0,134.0 340.0,125.5 350.0,118.0 365.0,117.0 367.5,114.0" fill="none" stroke="rgba(0,0,0,0.42)" stroke-width="0.8" stroke-linejoin="round" stroke-linecap="round"/><polyline points="350.0,118.0 349.0,128.0 350.0,135.5 365.0,135.5 380.0,138.0" fill="none" stroke="rgba(0,0,0,0.42)" stroke-width="0.8" stroke-linejoin="round" stroke-linecap="round"/><polyline points="335.0,144.0 350.0,143.0 365.0,140.5 381.0,138.0" fill="none" stroke="rgba(0,0,0,0.42)" stroke-width="0.8" stroke-linejoin="round" stroke-linecap="round"/><polyline points="233.8,109.2 245.0,111.8" fill="none" stroke="rgba(0,0,0,0.42)" stroke-width="0.8" stroke-linejoin="round" stroke-linecap="round"/><polyline points="577.0,168.0 581.0,176.0 585.0,183.0 586.0,186.0" fill="none" stroke="rgba(0,0,0,0.42)" stroke-width="0.8" stroke-linejoin="round" stroke-linecap="round"/><polyline points="588.0,148.0 590.0,154.0 596.0,158.0 598.0,162.0" fill="none" stroke="rgba(0,0,0,0.42)" stroke-width="0.8" stroke-linejoin="round" stroke-linecap="round"/><polyline points="622.0,148.0 619.0,156.0 616.0,164.0 614.0,172.0 609.0,178.0 606.0,184.0" fill="none" stroke="rgba(0,0,0,0.42)" stroke-width="0.8" stroke-linejoin="round" stroke-linecap="round"/><polyline points="385.0,162.0 384.0,170.0 386.0,174.0 393.0,175.0 390.0,182.0 388.0,190.0 389.0,196.0 385.0,198.0 384.0,206.0 385.0,212.0" fill="none" stroke="rgba(0,0,0,0.42)" stroke-width="0.8" stroke-linejoin="round" stroke-linecap="round"/><polyline points="404.0,168.0 405.0,176.0 402.0,186.0 404.0,194.0 410.0,198.0 416.0,200.0 417.0,206.0 414.0,210.0 418.0,216.0 424.0,218.0 426.0,224.0 424.0,230.0 420.0,234.0 420.0,240.0" fill="none" stroke="rgba(0,0,0,0.42)" stroke-width="0.8" stroke-linejoin="round" stroke-linecap="round"/><polyline points="385.0,198.0 394.0,199.0 395.0,208.0 400.0,210.0 406.0,206.0 410.0,204.0 416.0,200.0" fill="none" stroke="rgba(0,0,0,0.42)" stroke-width="0.8" stroke-linejoin="round" stroke-linecap="round"/><polyline points="385.0,212.0 393.0,211.0 395.0,208.0" fill="none" stroke="rgba(0,0,0,0.42)" stroke-width="0.8" stroke-linejoin="round" stroke-linecap="round"/><polyline points="385.0,212.0 380.0,213.0 372.0,216.0 371.0,224.0 373.0,232.0 370.0,236.0 372.0,242.0 374.0,248.0" fill="none" stroke="rgba(0,0,0,0.42)" stroke-width="0.8" stroke-linejoin="round" stroke-linecap="round"/><polyline points="400.0,210.0 399.0,218.0 394.0,226.0 388.0,230.0 380.0,233.0 373.0,232.0" fill="none" stroke="rgba(0,0,0,0.42)" stroke-width="0.8" stroke-linejoin="round" stroke-linecap="round"/><polyline points="340.0,224.0 348.0,220.0 358.0,214.0 364.0,206.0 370.0,202.0 372.0,194.0 364.0,188.0 360.0,182.0 355.0,179.0" fill="none" stroke="rgba(0,0,0,0.42)" stroke-width="0.8" stroke-linejoin="round" stroke-linecap="round"/><polyline points="370.0,202.0 378.0,201.0 385.0,198.0" fill="none" stroke="rgba(0,0,0,0.42)" stroke-width="0.8" stroke-linejoin="round" stroke-linecap="round"/><polyline points="399.0,218.0 408.0,224.0 411.0,230.0 410.0,236.0 414.0,242.0 414.0,248.0" fill="none" stroke="rgba(0,0,0,0.42)" stroke-width="0.8" stroke-linejoin="round" stroke-linecap="round"/><polyline points="332.0,274.0 334.0,282.0 329.0,286.0 327.0,292.0 330.0,298.0 340.0,294.0 342.0,288.0 338.0,285.0 334.0,282.0" fill="none" stroke="rgba(0,0,0,0.42)" stroke-width="0.8" stroke-linejoin="round" stroke-linecap="round"/><polyline points="300.0,288.0 306.0,296.0 314.0,302.0 320.0,306.0 328.0,306.0 330.0,298.0" fill="none" stroke="rgba(0,0,0,0.42)" stroke-width="0.8" stroke-linejoin="round" stroke-linecap="round"/><polyline points="320.0,306.0 318.0,312.0 310.0,316.0 308.0,322.0 302.0,326.0 296.0,326.0 292.0,334.0 284.0,330.0" fill="none" stroke="rgba(0,0,0,0.42)" stroke-width="0.8" stroke-linejoin="round" stroke-linecap="round"/><polyline points="328.0,306.0 329.0,316.0 327.0,326.0 328.0,334.0 326.0,342.0 328.0,350.0 338.0,346.0 344.0,350.0" fill="none" stroke="rgba(0,0,0,0.42)" stroke-width="0.8" stroke-linejoin="round" stroke-linecap="round"/><polyline points="298.0,344.0 308.0,342.0 318.0,339.0 326.0,342.0" fill="none" stroke="rgba(0,0,0,0.42)" stroke-width="0.8" stroke-linejoin="round" stroke-linecap="round"/><polyline points="360.0,314.0 358.0,322.0 360.0,328.0 363.0,334.0 360.0,340.0 356.0,346.0 354.0,352.0 352.0,358.0" fill="none" stroke="rgba(0,0,0,0.42)" stroke-width="0.8" stroke-linejoin="round" stroke-linecap="round"/><polyline points="350.0,316.0 346.0,324.0 345.0,332.0 344.0,340.0 346.0,346.0 350.0,352.0" fill="none" stroke="rgba(0,0,0,0.42)" stroke-width="0.8" stroke-linejoin="round" stroke-linecap="round"/><polyline points="340.0,294.0 350.0,292.0 360.0,294.0 366.0,292.0" fill="none" stroke="rgba(0,0,0,0.42)" stroke-width="0.8" stroke-linejoin="round" stroke-linecap="round"/><polyline points="328.0,350.0 327.0,360.0 330.0,368.0 326.0,374.0" fill="none" stroke="rgba(0,0,0,0.42)" stroke-width="0.8" stroke-linejoin="round" stroke-linecap="round"/><polyline points="344.0,350.0 345.0,360.0 350.0,368.0" fill="none" stroke="rgba(0,0,0,0.42)" stroke-width="0.8" stroke-linejoin="round" stroke-linecap="round"/><polyline points="392.0,294.0 391.0,302.0 390.0,308.0 396.0,310.0 400.0,316.0 402.0,320.0 410.0,318.0 414.0,320.0 411.0,326.0 408.0,330.0" fill="none" stroke="rgba(0,0,0,0.42)" stroke-width="0.8" stroke-linejoin="round" stroke-linecap="round"/><polyline points="390.0,308.0 388.0,315.0" fill="none" stroke="rgba(0,0,0,0.42)" stroke-width="0.8" stroke-linejoin="round" stroke-linecap="round"/><polyline points="384.0,276.0 382.0,280.0 388.0,284.0 392.0,294.0" fill="none" stroke="rgba(0,0,0,0.42)" stroke-width="0.8" stroke-linejoin="round" stroke-linecap="round"/><polyline points="269.0,321.0 268.0,330.5 265.0,335.0 269.0,341.5 274.0,345.5 275.4,351.8 270.7,355.0 262.8,359.6 260.5,362.8" fill="none" stroke="rgba(0,0,0,0.42)" stroke-width="0.8" stroke-linejoin="round" stroke-linecap="round"/><polyline points="275.4,351.8 281.7,353.4 281.0,359.0 280.0,363.6 277.0,366.7 277.8,373.0 277.0,380.0" fill="none" stroke="rgba(0,0,0,0.42)" stroke-width="0.8" stroke-linejoin="round" stroke-linecap="round"/><polyline points="280.0,363.6 287.0,364.4 294.0,361.0 300.6,359.6" fill="none" stroke="rgba(0,0,0,0.42)" stroke-width="0.8" stroke-linejoin="round" stroke-linecap="round"/><polyline points="289.6,370.0 290.4,374.6 289.6,379.0 294.0,385.6" fill="none" stroke="rgba(0,0,0,0.42)" stroke-width="0.8" stroke-linejoin="round" stroke-linecap="round"/><polyline points="598.0,162.0 606.0,164.0 614.0,172.0" fill="none" stroke="rgba(0,0,0,0.42)" stroke-width="0.8" stroke-linejoin="round" stroke-linecap="round"/><polyline points="475.0,198.0 476.0,206.0 470.0,212.0 466.0,218.0 467.0,226.0 472.0,232.0 480.0,233.0" fill="none" stroke="rgba(0,0,0,0.42)" stroke-width="0.8" stroke-linejoin="round" stroke-linecap="round"/><polyline points="466.0,218.0 458.0,223.0 455.0,222.0" fill="none" stroke="rgba(0,0,0,0.42)" stroke-width="0.8" stroke-linejoin="round" stroke-linecap="round"/><polyline points="470.0,212.0 480.0,211.0 490.0,211.0 498.0,215.0 504.0,214.0 508.0,212.0" fill="none" stroke="rgba(0,0,0,0.42)" stroke-width="0.8" stroke-linejoin="round" stroke-linecap="round"/><polyline points="517.0,198.0 516.0,206.0 520.0,212.0" fill="none" stroke="rgba(0,0,0,0.42)" stroke-width="0.8" stroke-linejoin="round" stroke-linecap="round"/><polyline points="467.0,226.0 460.0,234.0 454.0,238.0 448.0,240.0" fill="none" stroke="rgba(0,0,0,0.42)" stroke-width="0.8" stroke-linejoin="round" stroke-linecap="round"/><polyline points="426.0,212.0 428.0,220.0 424.0,226.0 420.0,232.0 422.0,240.0 418.0,246.0 412.0,250.0" fill="none" stroke="rgba(0,0,0,0.42)" stroke-width="0.8" stroke-linejoin="round" stroke-linecap="round"/><polyline points="497.5,114.2 498.8,121.8 505.0,126.8 507.5,135.5 506.2,140.5 500.0,141.8 491.2,139.2 482.5,135.5 473.8,136.8 467.0,142.0" fill="none" stroke="rgba(0,0,0,0.42)" stroke-width="0.8" stroke-linejoin="round" stroke-linecap="round"/><polyline points="518.8,123.0 525.0,120.5 532.5,121.8 535.0,128.0 530.0,130.5 522.5,128.0 518.8,123.0" fill="none" stroke="rgba(0,0,0,0.42)" stroke-width="0.8" stroke-linejoin="round" stroke-linecap="round"/><polyline points="507.5,135.5 516.2,135.5 520.0,130.5 530.0,130.5" fill="none" stroke="rgba(0,0,0,0.42)" stroke-width="0.8" stroke-linejoin="round" stroke-linecap="round"/><polyline points="530.0,135.5 535.0,143.0 533.8,149.2 542.5,154.2 545.0,159.2 540.0,165.5 537.5,169.2 527.5,169.2 520.0,170.5 512.5,168.0 505.0,168.0 495.0,169.2" fill="none" stroke="rgba(0,0,0,0.42)" stroke-width="0.8" stroke-linejoin="round" stroke-linecap="round"/><polyline points="530.0,130.5 530.0,135.5" fill="none" stroke="rgba(0,0,0,0.42)" stroke-width="0.8" stroke-linejoin="round" stroke-linecap="round"/><polyline points="500.0,141.8 497.5,150.5 495.0,160.5 495.0,169.2" fill="none" stroke="rgba(0,0,0,0.42)" stroke-width="0.8" stroke-linejoin="round" stroke-linecap="round"/><polyline points="473.8,136.8 476.2,146.8 472.5,155.5 473.8,165.5 472.5,171.8" fill="none" stroke="rgba(0,0,0,0.42)" stroke-width="0.8" stroke-linejoin="round" stroke-linecap="round"/><polyline points="545.0,131.8 547.5,139.2 551.2,144.2 548.8,151.8 547.5,158.0 545.0,159.2" fill="none" stroke="rgba(0,0,0,0.42)" stroke-width="0.8" stroke-linejoin="round" stroke-linecap="round"/><polyline points="557.5,135.5 556.2,143.0 551.2,144.2" fill="none" stroke="rgba(0,0,0,0.42)" stroke-width="0.8" stroke-linejoin="round" stroke-linecap="round"/><polyline points="535.0,124.2 537.5,131.8 545.0,131.8" fill="none" stroke="rgba(0,0,0,0.42)" stroke-width="0.8" stroke-linejoin="round" stroke-linecap="round"/><polyline points="565.0,141.8 560.0,149.2 553.8,155.5 548.8,151.8" fill="none" stroke="rgba(0,0,0,0.42)" stroke-width="0.8" stroke-linejoin="round" stroke-linecap="round"/><polyline points="527.5,169.2 525.0,178.0 522.5,188.0 520.0,198.0 517.5,208.0" fill="none" stroke="rgba(0,0,0,0.42)" stroke-width="0.8" stroke-linejoin="round" stroke-linecap="round"/><polyline points="580.0,169.0 580.0,178.0 585.0,184.0 595.0,185.5" fill="none" stroke="rgba(0,0,0,0.42)" stroke-width="0.8" stroke-linejoin="round" stroke-linecap="round"/><polyline points="477.5,171.8 476.2,183.0 475.0,195.5 473.8,208.0 470.0,214.0" fill="none" stroke="rgba(0,0,0,0.42)" stroke-width="0.8" stroke-linejoin="round" stroke-linecap="round"/><polyline points="162.5,186.8 172.5,188.0 177.5,184.2 193.8,178.0 207.5,184.2 206.0,201.0 205.0,208.0 206.0,218.0 210.0,225.0 216.0,229.0" fill="none" stroke="rgba(10,10,10,0.9)" stroke-width="1.05" stroke-linejoin="round" stroke-linecap="round"/><polyline points="287.5,89.2 285.0,99.2 287.5,108.0 287.0,115.0 285.0,121.0 278.0,124.0 272.0,123.0 271.0,128.0 267.0,136.0 260.0,140.0 252.0,143.0 248.0,147.0 247.0,154.0 249.0,161.0 251.0,168.0 244.0,172.0 240.0,179.0 245.0,188.0 243.0,192.0 239.0,197.0 236.0,203.0 230.0,211.0 221.0,220.0 216.0,229.0" fill="none" stroke="rgba(10,10,10,0.9)" stroke-width="1.05" stroke-linejoin="round" stroke-linecap="round"/><polyline points="267.0,136.0 272.0,141.0 276.0,148.0 278.0,158.0 279.0,166.0 280.0,170.0 272.0,175.0 271.0,179.0 277.0,183.0 286.0,184.0 288.0,190.0 291.0,194.0 298.0,200.0 299.0,203.0" fill="none" stroke="rgba(10,10,10,0.9)" stroke-width="1.05" stroke-linejoin="round" stroke-linecap="round"/><polyline points="287.0,168.0 290.0,161.0 295.0,158.0 306.0,156.0 316.0,159.0 322.0,163.0 323.0,171.0 320.0,172.0 308.0,175.0 298.0,174.0 289.0,172.0 287.0,168.0" fill="none" stroke="rgba(10,10,10,0.9)" stroke-width="1.05" stroke-linejoin="round" stroke-linecap="round"/><polyline points="280.0,170.0 287.0,168.0" fill="none" stroke="rgba(10,10,10,0.9)" stroke-width="1.05" stroke-linejoin="round" stroke-linecap="round"/><polyline points="333.8,86.0 335.0,95.5 341.2,101.8 342.0,113.0 338.0,120.0 331.0,125.0 327.0,131.0 328.0,138.0 326.0,144.0 329.0,148.0 336.0,150.0 341.0,155.0 344.0,163.0 343.0,172.0 339.0,178.0 338.0,181.0" fill="none" stroke="rgba(10,10,10,0.9)" stroke-width="1.05" stroke-linejoin="round" stroke-linecap="round"/><polyline points="326.0,144.0 323.0,152.0 324.0,158.0 322.0,163.0" fill="none" stroke="rgba(10,10,10,0.9)" stroke-width="1.05" stroke-linejoin="round" stroke-linecap="round"/><polyline points="323.0,171.0 328.0,177.0 332.0,182.0 338.0,181.0 344.0,183.0 352.0,185.0 356.0,182.0 357.0,176.0 362.0,173.0 363.0,166.0 366.0,160.0 374.0,156.0 382.0,156.0" fill="none" stroke="rgba(10,10,10,0.9)" stroke-width="1.05" stroke-linejoin="round" stroke-linecap="round"/><polyline points="308.0,175.0 311.0,178.0 315.0,187.0 312.0,192.0 306.0,198.0 299.0,203.0 297.0,210.0 299.0,218.0 303.0,226.0 309.0,233.0 313.0,240.0 314.0,246.0 312.0,254.0 313.0,262.0 315.0,262.0" fill="none" stroke="rgba(10,10,10,0.9)" stroke-width="1.05" stroke-linejoin="round" stroke-linecap="round"/><polyline points="352.0,185.0 350.0,192.0 346.0,197.0 341.0,200.0 334.0,205.0 332.0,212.0 333.0,222.0 336.0,232.0 339.0,238.0 342.0,242.0 346.0,248.0 348.0,253.0 354.0,255.0 362.0,252.0 370.0,248.0" fill="none" stroke="rgba(10,10,10,0.9)" stroke-width="1.05" stroke-linejoin="round" stroke-linecap="round"/><polyline points="216.0,229.0 213.0,234.0 202.0,241.0 194.0,249.0 188.0,253.0 183.6,254.9" fill="none" stroke="rgba(10,10,10,0.9)" stroke-width="1.05" stroke-linejoin="round" stroke-linecap="round"/><polyline points="190.0,250.0 195.0,251.0 197.0,258.0 202.0,259.0 208.0,258.0 215.0,255.0 214.0,250.0 211.0,246.0 214.0,243.0 221.0,241.0 230.0,238.0 236.0,239.0 244.0,242.0 253.0,236.0 260.0,233.0 266.0,228.0 271.0,225.0" fill="none" stroke="rgba(10,10,10,0.9)" stroke-width="1.05" stroke-linejoin="round" stroke-linecap="round"/><polyline points="271.0,225.0 273.0,234.0 276.0,244.0 280.0,251.0 281.0,255.0 288.0,257.0 296.0,260.0 302.0,263.0 312.0,262.0 314.0,265.0 317.0,268.0 315.0,272.0 309.0,275.0 306.0,278.0 307.0,285.0 310.0,284.0" fill="none" stroke="rgba(10,10,10,0.9)" stroke-width="1.05" stroke-linejoin="round" stroke-linecap="round"/><polyline points="315.0,262.0 320.0,264.0 326.0,261.0 334.0,266.0 340.0,268.0 346.0,266.0 352.0,260.0 354.0,254.0" fill="none" stroke="rgba(10,10,10,0.9)" stroke-width="1.05" stroke-linejoin="round" stroke-linecap="round"/><polyline points="354.0,254.0 360.0,253.0 368.0,250.0 376.0,248.0 379.0,254.0 384.0,257.0 390.0,258.0 391.0,262.0 396.0,266.0 400.0,273.0 408.0,272.0 414.0,277.0 420.0,281.0 425.0,287.0" fill="none" stroke="rgba(10,10,10,0.9)" stroke-width="1.05" stroke-linejoin="round" stroke-linecap="round"/><polyline points="391.0,262.0 388.0,263.0 380.0,265.0 374.0,268.0 369.0,274.0 368.0,282.0 372.0,287.0 373.0,292.0 370.0,298.0 368.0,304.0 364.0,309.0 360.0,312.0 362.0,315.0 368.0,315.0 378.0,316.0 384.0,314.0 388.0,315.0 394.0,318.0 398.0,320.0 400.0,328.0 402.0,336.0" fill="none" stroke="rgba(10,10,10,0.9)" stroke-width="1.05" stroke-linejoin="round" stroke-linecap="round"/><polyline points="183.6,254.9 182.0,266.0 187.0,271.0 194.0,274.0 200.0,281.0 210.0,278.0 218.0,272.0 223.0,269.0" fill="none" stroke="rgba(10,10,10,0.9)" stroke-width="1.05" stroke-linejoin="round" stroke-linecap="round"/><polyline points="223.0,269.0 221.0,276.0 225.0,281.0 223.0,287.0 230.0,289.0 238.0,288.0 244.0,284.0 247.0,281.0 256.0,282.0 266.0,281.0 274.0,282.0 281.0,286.0 287.0,290.0 290.0,295.0" fill="none" stroke="rgba(10,10,10,0.9)" stroke-width="1.05" stroke-linejoin="round" stroke-linecap="round"/><polyline points="290.0,295.0 296.0,290.0 306.0,287.0 310.0,284.0" fill="none" stroke="rgba(10,10,10,0.9)" stroke-width="1.05" stroke-linejoin="round" stroke-linecap="round"/><polyline points="290.0,295.0 288.0,301.0 282.0,303.0 279.0,308.0 280.0,316.0 281.0,320.0" fill="none" stroke="rgba(10,10,10,0.9)" stroke-width="1.05" stroke-linejoin="round" stroke-linecap="round"/><polyline points="281.0,320.0 276.0,321.0 270.0,321.0 264.0,325.0 256.0,327.0 248.0,330.0 240.0,331.0 235.0,332.0 238.0,337.0 242.0,344.0 246.0,350.0 252.0,352.0 258.0,358.0 262.0,364.0 266.0,368.0 271.0,374.0 276.2,380.1" fill="none" stroke="rgba(10,10,10,0.9)" stroke-width="1.05" stroke-linejoin="round" stroke-linecap="round"/><polyline points="281.0,320.0 284.9,330.6 291.0,336.9 295.9,344.7 298.2,349.4 299.0,355.7 302.0,362.0 303.7,371.4" fill="none" stroke="rgba(10,10,10,0.9)" stroke-width="1.05" stroke-linejoin="round" stroke-linecap="round"/><polyline points="168.6,275.4 170.0,280.0 178.0,284.0 183.0,290.0 186.0,298.0 187.0,306.0 192.0,311.0 193.0,318.0 196.0,323.0 195.0,328.0 190.0,333.0 187.0,340.0 188.0,347.0 194.0,353.0 202.0,356.0 207.0,356.0" fill="none" stroke="rgba(10,10,10,0.9)" stroke-width="1.05" stroke-linejoin="round" stroke-linecap="round"/><polyline points="428.0,171.0 427.0,175.0 429.0,178.0 428.0,186.0 425.0,194.0 426.0,201.0 430.0,206.0 436.0,212.0 442.0,217.0 448.0,219.0 455.0,222.0 454.0,228.0 451.0,233.0 448.0,240.0 444.0,246.0 438.0,249.0 433.0,251.0 432.0,257.0 435.0,262.0 435.0,268.0 430.0,274.0 425.0,287.0" fill="none" stroke="rgba(10,10,10,0.9)" stroke-width="1.05" stroke-linejoin="round" stroke-linecap="round"/><polyline points="429.0,178.0 438.0,180.0 448.0,180.0 458.0,178.0 468.0,175.0 474.0,170.0 482.0,171.0 492.0,169.0 495.0,175.0 497.0,182.0 496.0,190.0 495.0,198.0 498.0,204.0 502.0,210.0 508.0,212.0 516.0,211.0 520.0,212.0" fill="none" stroke="rgba(10,10,10,0.9)" stroke-width="1.05" stroke-linejoin="round" stroke-linecap="round"/><polyline points="592.0,141.0 588.0,148.0 584.0,154.0 579.0,160.0 577.0,168.0 572.0,170.0 564.0,171.0 556.0,172.0 550.0,170.0 543.0,172.0 540.0,176.0 542.0,182.0 548.0,187.0 551.0,192.0 555.0,196.0 560.0,197.0 564.0,195.0" fill="none" stroke="rgba(10,10,10,0.9)" stroke-width="1.05" stroke-linejoin="round" stroke-linecap="round"/><polyline points="425.0,287.0 426.0,296.0 431.0,301.0" fill="none" stroke="rgba(10,10,10,0.9)" stroke-width="1.05" stroke-linejoin="round" stroke-linecap="round"/>
<g clip-path="url(#prov)"><polygon points="432.0,278.0 438.0,274.0 449.0,269.0 458.0,268.0 468.0,265.0 475.0,263.0 479.0,264.0 472.0,271.0 466.0,276.0 460.0,280.0 455.0,285.0 451.0,290.0 446.0,295.0 440.0,297.0 432.0,298.0 426.0,296.0 425.0,289.0 428.0,282.0" fill="#0a0ae2"/><polygon points="477.0,258.0 480.0,256.0 488.0,255.5 489.5,259.0 480.0,262.0 476.0,261.0" fill="#0a0ae2"/><polyline points="233.8,109.2 245.0,111.8 248.8,120.5 246.2,128.0 241.2,129.2 227.5,131.8 218.8,136.8 210.0,144.2 203.8,155.5 197.5,156.8 195.0,148.0" fill="none" stroke="rgba(0,0,0,0.18)" stroke-width="0.8" stroke-linejoin="round" stroke-linecap="round"/><polyline points="241.2,129.2 243.8,136.8 240.0,148.0 236.2,158.0 226.2,163.0 217.5,171.8 207.5,184.2" fill="none" stroke="rgba(0,0,0,0.18)" stroke-width="0.8" stroke-linejoin="round" stroke-linecap="round"/><polyline points="171.2,170.5 185.0,166.8 192.5,169.2 193.8,178.0" fill="none" stroke="rgba(0,0,0,0.18)" stroke-width="0.8" stroke-linejoin="round" stroke-linecap="round"/><polyline points="197.5,156.8 192.5,169.2" fill="none" stroke="rgba(0,0,0,0.18)" stroke-width="0.8" stroke-linejoin="round" stroke-linecap="round"/><polyline points="203.8,155.5 212.5,159.2 226.2,163.0" fill="none" stroke="rgba(0,0,0,0.18)" stroke-width="0.8" stroke-linejoin="round" stroke-linecap="round"/><polyline points="226.2,163.0 228.8,173.0 240.0,179.2" fill="none" stroke="rgba(0,0,0,0.18)" stroke-width="0.8" stroke-linejoin="round" stroke-linecap="round"/><polyline points="228.8,173.0 226.2,188.0 223.8,201.0" fill="none" stroke="rgba(0,0,0,0.18)" stroke-width="0.8" stroke-linejoin="round" stroke-linecap="round"/><polyline points="248.8,120.5 258.0,116.0 265.0,113.0 272.0,109.0" fill="none" stroke="rgba(0,0,0,0.18)" stroke-width="0.8" stroke-linejoin="round" stroke-linecap="round"/><polyline points="180.0,189.0 179.0,198.0 172.0,207.0 160.0,206.0 150.0,208.0 140.0,209.0" fill="none" stroke="rgba(0,0,0,0.18)" stroke-width="0.8" stroke-linejoin="round" stroke-linecap="round"/><polyline points="179.0,198.0 188.0,204.0 196.0,203.0 204.0,207.0 206.0,208.0" fill="none" stroke="rgba(0,0,0,0.18)" stroke-width="0.8" stroke-linejoin="round" stroke-linecap="round"/><polyline points="172.0,207.0 171.0,216.0 177.0,219.0 188.0,221.0 193.0,224.0 192.0,229.0 184.0,233.0 170.0,238.0 158.0,239.0 156.0,230.0 160.0,218.0 160.0,206.0" fill="none" stroke="rgba(0,0,0,0.18)" stroke-width="0.8" stroke-linejoin="round" stroke-linecap="round"/><polyline points="156.0,230.0 144.0,232.0 133.0,232.0" fill="none" stroke="rgba(0,0,0,0.18)" stroke-width="0.8" stroke-linejoin="round" stroke-linecap="round"/><polyline points="158.0,239.0 156.0,248.0 155.0,258.0 156.0,266.0" fill="none" stroke="rgba(0,0,0,0.18)" stroke-width="0.8" stroke-linejoin="round" stroke-linecap="round"/><polyline points="184.0,233.0 182.0,240.0 184.0,248.0 182.0,254.0" fill="none" stroke="rgba(0,0,0,0.18)" stroke-width="0.8" stroke-linejoin="round" stroke-linecap="round"/><polyline points="192.0,229.0 200.0,226.0 208.0,225.0" fill="none" stroke="rgba(0,0,0,0.18)" stroke-width="0.8" stroke-linejoin="round" stroke-linecap="round"/><polyline points="208.0,208.0 216.0,206.0 220.0,198.0 226.0,190.0 229.0,180.0 228.0,172.0" fill="none" stroke="rgba(0,0,0,0.18)" stroke-width="0.8" stroke-linejoin="round" stroke-linecap="round"/><polyline points="156.0,288.0 157.5,300.5 156.0,312.0 165.0,315.5 164.0,328.0 164.0,337.0 162.5,348.0 160.0,354.0 167.5,360.5 165.0,370.5 164.0,382.0" fill="none" stroke="rgba(0,0,0,0.18)" stroke-width="0.8" stroke-linejoin="round" stroke-linecap="round"/><polyline points="121.0,310.5 127.5,312.0 140.0,313.0 156.0,312.0" fill="none" stroke="rgba(0,0,0,0.18)" stroke-width="0.8" stroke-linejoin="round" stroke-linecap="round"/><polyline points="165.0,315.5 175.0,312.0 186.0,305.5" fill="none" stroke="rgba(0,0,0,0.18)" stroke-width="0.8" stroke-linejoin="round" stroke-linecap="round"/><polyline points="126.0,315.5 125.0,325.5 122.5,342.0 117.5,347.0" fill="none" stroke="rgba(0,0,0,0.18)" stroke-width="0.8" stroke-linejoin="round" stroke-linecap="round"/><polyline points="122.5,342.0 134.0,343.0 149.0,347.0 162.5,348.0" fill="none" stroke="rgba(0,0,0,0.18)" stroke-width="0.8" stroke-linejoin="round" stroke-linecap="round"/><polyline points="134.0,343.0 132.5,338.0 145.0,334.0 164.0,337.0" fill="none" stroke="rgba(0,0,0,0.18)" stroke-width="0.8" stroke-linejoin="round" stroke-linecap="round"/><polyline points="164.0,337.0 175.0,335.5 186.0,338.0 188.5,342.0" fill="none" stroke="rgba(0,0,0,0.18)" stroke-width="0.8" stroke-linejoin="round" stroke-linecap="round"/><polyline points="160.0,354.0 177.5,352.0 181.0,353.0 188.5,349.0" fill="none" stroke="rgba(0,0,0,0.18)" stroke-width="0.8" stroke-linejoin="round" stroke-linecap="round"/><polyline points="167.5,360.5 175.0,362.0 180.0,354.0" fill="none" stroke="rgba(0,0,0,0.18)" stroke-width="0.8" stroke-linejoin="round" stroke-linecap="round"/><polyline points="187.0,295.0 200.0,297.0 207.0,303.0 220.0,300.0 220.0,290.0 223.0,286.0" fill="none" stroke="rgba(0,0,0,0.18)" stroke-width="0.8" stroke-linejoin="round" stroke-linecap="round"/><polyline points="200.0,297.0 201.0,286.0 200.0,278.0" fill="none" stroke="rgba(0,0,0,0.18)" stroke-width="0.8" stroke-linejoin="round" stroke-linecap="round"/><polyline points="220.0,300.0 230.0,302.0 238.0,304.0 239.0,296.0 238.0,288.0" fill="none" stroke="rgba(0,0,0,0.18)" stroke-width="0.8" stroke-linejoin="round" stroke-linecap="round"/><polyline points="238.0,304.0 250.0,305.0 260.0,306.0 264.0,303.0 258.0,298.0 255.0,292.0 256.0,282.0" fill="none" stroke="rgba(0,0,0,0.18)" stroke-width="0.8" stroke-linejoin="round" stroke-linecap="round"/><polyline points="260.0,306.0 270.0,308.0 279.0,308.0" fill="none" stroke="rgba(0,0,0,0.18)" stroke-width="0.8" stroke-linejoin="round" stroke-linecap="round"/><polyline points="207.0,303.0 209.0,312.0 210.0,322.0 206.0,326.0 196.0,323.0" fill="none" stroke="rgba(0,0,0,0.18)" stroke-width="0.8" stroke-linejoin="round" stroke-linecap="round"/><polyline points="210.0,322.0 217.0,323.0 219.0,316.0 224.0,310.0 230.0,302.0" fill="none" stroke="rgba(0,0,0,0.18)" stroke-width="0.8" stroke-linejoin="round" stroke-linecap="round"/><polyline points="219.0,316.0 222.0,324.0 227.0,322.0 230.0,314.0 238.0,304.0" fill="none" stroke="rgba(0,0,0,0.18)" stroke-width="0.8" stroke-linejoin="round" stroke-linecap="round"/><polyline points="217.0,323.0 218.0,332.0 221.0,340.0 228.0,346.0 232.0,344.0" fill="none" stroke="rgba(0,0,0,0.18)" stroke-width="0.8" stroke-linejoin="round" stroke-linecap="round"/><polyline points="218.0,332.0 210.0,336.0 207.0,342.0 208.0,353.0" fill="none" stroke="rgba(0,0,0,0.18)" stroke-width="0.8" stroke-linejoin="round" stroke-linecap="round"/><polyline points="231.0,314.0 231.0,324.0 233.0,330.0 235.0,332.0" fill="none" stroke="rgba(0,0,0,0.18)" stroke-width="0.8" stroke-linejoin="round" stroke-linecap="round"/><polyline points="190.0,333.0 200.0,328.0 206.0,326.0" fill="none" stroke="rgba(0,0,0,0.18)" stroke-width="0.8" stroke-linejoin="round" stroke-linecap="round"/><polyline points="234.0,212.0 242.0,211.0 250.0,214.0 258.0,212.0 260.0,206.0 270.0,203.0 272.0,196.0 268.0,190.0" fill="none" stroke="rgba(0,0,0,0.18)" stroke-width="0.8" stroke-linejoin="round" stroke-linecap="round"/><polyline points="250.0,214.0 252.0,220.0 258.0,223.0 268.0,220.0 273.0,212.0 270.0,203.0" fill="none" stroke="rgba(0,0,0,0.18)" stroke-width="0.8" stroke-linejoin="round" stroke-linecap="round"/><polyline points="239.0,197.0 245.0,200.0 249.0,195.0 256.0,194.0 260.0,188.0" fill="none" stroke="rgba(0,0,0,0.18)" stroke-width="0.8" stroke-linejoin="round" stroke-linecap="round"/><polyline points="234.0,212.0 240.0,221.0 248.0,230.0 253.0,236.0" fill="none" stroke="rgba(0,0,0,0.18)" stroke-width="0.8" stroke-linejoin="round" stroke-linecap="round"/><polyline points="258.0,223.0 256.0,231.0" fill="none" stroke="rgba(0,0,0,0.18)" stroke-width="0.8" stroke-linejoin="round" stroke-linecap="round"/><polyline points="271.0,225.0 282.0,222.0 290.0,219.0 297.0,218.0" fill="none" stroke="rgba(0,0,0,0.18)" stroke-width="0.8" stroke-linejoin="round" stroke-linecap="round"/><polyline points="253.0,236.0 255.0,242.0 252.0,248.0 260.0,254.0 270.0,248.0 266.0,242.0 258.0,238.0" fill="none" stroke="rgba(0,0,0,0.18)" stroke-width="0.8" stroke-linejoin="round" stroke-linecap="round"/><polyline points="238.0,241.0 237.0,250.0 240.0,258.0 230.0,266.0 223.0,269.0" fill="none" stroke="rgba(0,0,0,0.18)" stroke-width="0.8" stroke-linejoin="round" stroke-linecap="round"/><polyline points="240.0,258.0 250.0,266.0 260.0,268.0 268.0,274.0 274.0,281.0" fill="none" stroke="rgba(0,0,0,0.18)" stroke-width="0.8" stroke-linejoin="round" stroke-linecap="round"/><polyline points="260.0,268.0 266.0,262.0 279.0,258.0" fill="none" stroke="rgba(0,0,0,0.18)" stroke-width="0.8" stroke-linejoin="round" stroke-linecap="round"/><polyline points="238.0,248.0 242.0,258.0 256.0,268.0" fill="none" stroke="rgba(0,0,0,0.18)" stroke-width="0.8" stroke-linejoin="round" stroke-linecap="round"/><polyline points="314.0,188.0 314.0,194.0 318.0,202.0 328.0,203.0 332.0,198.0 330.0,190.0" fill="none" stroke="rgba(0,0,0,0.18)" stroke-width="0.8" stroke-linejoin="round" stroke-linecap="round"/><polyline points="299.0,218.0 308.0,215.0 316.0,218.0 324.0,224.0 333.0,222.0" fill="none" stroke="rgba(0,0,0,0.18)" stroke-width="0.8" stroke-linejoin="round" stroke-linecap="round"/><polyline points="316.0,218.0 318.0,228.0 326.0,232.0 336.0,232.0" fill="none" stroke="rgba(0,0,0,0.18)" stroke-width="0.8" stroke-linejoin="round" stroke-linecap="round"/><polyline points="309.0,233.0 318.0,228.0" fill="none" stroke="rgba(0,0,0,0.18)" stroke-width="0.8" stroke-linejoin="round" stroke-linecap="round"/><polyline points="297.0,256.0 298.0,250.0 304.0,244.0 312.0,241.0" fill="none" stroke="rgba(0,0,0,0.18)" stroke-width="0.8" stroke-linejoin="round" stroke-linecap="round"/><polyline points="332.0,228.0 342.0,223.0 352.0,218.0 358.0,213.0 370.0,215.0" fill="none" stroke="rgba(0,0,0,0.18)" stroke-width="0.8" stroke-linejoin="round" stroke-linecap="round"/><polyline points="362.0,188.0 364.0,196.0 370.0,200.0" fill="none" stroke="rgba(0,0,0,0.18)" stroke-width="0.8" stroke-linejoin="round" stroke-linecap="round"/><polyline points="322.5,85.0 321.0,95.5 319.0,104.0 312.5,110.5 310.0,118.0 307.5,124.0" fill="none" stroke="rgba(0,0,0,0.18)" stroke-width="0.8" stroke-linejoin="round" stroke-linecap="round"/><polyline points="286.0,119.0 297.5,120.5 307.5,124.0 316.0,130.5 326.0,127.0" fill="none" stroke="rgba(0,0,0,0.18)" stroke-width="0.8" stroke-linejoin="round" stroke-linecap="round"/><polyline points="307.5,124.0 305.0,133.0 304.0,140.5 306.0,156.0" fill="none" stroke="rgba(0,0,0,0.18)" stroke-width="0.8" stroke-linejoin="round" stroke-linecap="round"/><polyline points="276.0,134.0 281.0,133.0 289.0,135.5 294.0,139.0 300.0,134.0 305.0,133.0" fill="none" stroke="rgba(0,0,0,0.18)" stroke-width="0.8" stroke-linejoin="round" stroke-linecap="round"/><polyline points="341.0,108.0 350.0,112.0 357.5,110.5 367.5,114.0 375.0,105.5 385.0,98.0" fill="none" stroke="rgba(0,0,0,0.18)" stroke-width="0.8" stroke-linejoin="round" stroke-linecap="round"/><polyline points="335.0,134.0 340.0,125.5 350.0,118.0 365.0,117.0 367.5,114.0" fill="none" stroke="rgba(0,0,0,0.18)" stroke-width="0.8" stroke-linejoin="round" stroke-linecap="round"/><polyline points="350.0,118.0 349.0,128.0 350.0,135.5 365.0,135.5 380.0,138.0" fill="none" stroke="rgba(0,0,0,0.18)" stroke-width="0.8" stroke-linejoin="round" stroke-linecap="round"/><polyline points="335.0,144.0 350.0,143.0 365.0,140.5 381.0,138.0" fill="none" stroke="rgba(0,0,0,0.18)" stroke-width="0.8" stroke-linejoin="round" stroke-linecap="round"/><polyline points="233.8,109.2 245.0,111.8" fill="none" stroke="rgba(0,0,0,0.18)" stroke-width="0.8" stroke-linejoin="round" stroke-linecap="round"/><polyline points="577.0,168.0 581.0,176.0 585.0,183.0 586.0,186.0" fill="none" stroke="rgba(0,0,0,0.18)" stroke-width="0.8" stroke-linejoin="round" stroke-linecap="round"/><polyline points="588.0,148.0 590.0,154.0 596.0,158.0 598.0,162.0" fill="none" stroke="rgba(0,0,0,0.18)" stroke-width="0.8" stroke-linejoin="round" stroke-linecap="round"/><polyline points="622.0,148.0 619.0,156.0 616.0,164.0 614.0,172.0 609.0,178.0 606.0,184.0" fill="none" stroke="rgba(0,0,0,0.18)" stroke-width="0.8" stroke-linejoin="round" stroke-linecap="round"/><polyline points="385.0,162.0 384.0,170.0 386.0,174.0 393.0,175.0 390.0,182.0 388.0,190.0 389.0,196.0 385.0,198.0 384.0,206.0 385.0,212.0" fill="none" stroke="rgba(0,0,0,0.18)" stroke-width="0.8" stroke-linejoin="round" stroke-linecap="round"/><polyline points="404.0,168.0 405.0,176.0 402.0,186.0 404.0,194.0 410.0,198.0 416.0,200.0 417.0,206.0 414.0,210.0 418.0,216.0 424.0,218.0 426.0,224.0 424.0,230.0 420.0,234.0 420.0,240.0" fill="none" stroke="rgba(0,0,0,0.18)" stroke-width="0.8" stroke-linejoin="round" stroke-linecap="round"/><polyline points="385.0,198.0 394.0,199.0 395.0,208.0 400.0,210.0 406.0,206.0 410.0,204.0 416.0,200.0" fill="none" stroke="rgba(0,0,0,0.18)" stroke-width="0.8" stroke-linejoin="round" stroke-linecap="round"/><polyline points="385.0,212.0 393.0,211.0 395.0,208.0" fill="none" stroke="rgba(0,0,0,0.18)" stroke-width="0.8" stroke-linejoin="round" stroke-linecap="round"/><polyline points="385.0,212.0 380.0,213.0 372.0,216.0 371.0,224.0 373.0,232.0 370.0,236.0 372.0,242.0 374.0,248.0" fill="none" stroke="rgba(0,0,0,0.18)" stroke-width="0.8" stroke-linejoin="round" stroke-linecap="round"/><polyline points="400.0,210.0 399.0,218.0 394.0,226.0 388.0,230.0 380.0,233.0 373.0,232.0" fill="none" stroke="rgba(0,0,0,0.18)" stroke-width="0.8" stroke-linejoin="round" stroke-linecap="round"/><polyline points="340.0,224.0 348.0,220.0 358.0,214.0 364.0,206.0 370.0,202.0 372.0,194.0 364.0,188.0 360.0,182.0 355.0,179.0" fill="none" stroke="rgba(0,0,0,0.18)" stroke-width="0.8" stroke-linejoin="round" stroke-linecap="round"/><polyline points="370.0,202.0 378.0,201.0 385.0,198.0" fill="none" stroke="rgba(0,0,0,0.18)" stroke-width="0.8" stroke-linejoin="round" stroke-linecap="round"/><polyline points="399.0,218.0 408.0,224.0 411.0,230.0 410.0,236.0 414.0,242.0 414.0,248.0" fill="none" stroke="rgba(0,0,0,0.18)" stroke-width="0.8" stroke-linejoin="round" stroke-linecap="round"/><polyline points="332.0,274.0 334.0,282.0 329.0,286.0 327.0,292.0 330.0,298.0 340.0,294.0 342.0,288.0 338.0,285.0 334.0,282.0" fill="none" stroke="rgba(0,0,0,0.18)" stroke-width="0.8" stroke-linejoin="round" stroke-linecap="round"/><polyline points="300.0,288.0 306.0,296.0 314.0,302.0 320.0,306.0 328.0,306.0 330.0,298.0" fill="none" stroke="rgba(0,0,0,0.18)" stroke-width="0.8" stroke-linejoin="round" stroke-linecap="round"/><polyline points="320.0,306.0 318.0,312.0 310.0,316.0 308.0,322.0 302.0,326.0 296.0,326.0 292.0,334.0 284.0,330.0" fill="none" stroke="rgba(0,0,0,0.18)" stroke-width="0.8" stroke-linejoin="round" stroke-linecap="round"/><polyline points="328.0,306.0 329.0,316.0 327.0,326.0 328.0,334.0 326.0,342.0 328.0,350.0 338.0,346.0 344.0,350.0" fill="none" stroke="rgba(0,0,0,0.18)" stroke-width="0.8" stroke-linejoin="round" stroke-linecap="round"/><polyline points="298.0,344.0 308.0,342.0 318.0,339.0 326.0,342.0" fill="none" stroke="rgba(0,0,0,0.18)" stroke-width="0.8" stroke-linejoin="round" stroke-linecap="round"/><polyline points="360.0,314.0 358.0,322.0 360.0,328.0 363.0,334.0 360.0,340.0 356.0,346.0 354.0,352.0 352.0,358.0" fill="none" stroke="rgba(0,0,0,0.18)" stroke-width="0.8" stroke-linejoin="round" stroke-linecap="round"/><polyline points="350.0,316.0 346.0,324.0 345.0,332.0 344.0,340.0 346.0,346.0 350.0,352.0" fill="none" stroke="rgba(0,0,0,0.18)" stroke-width="0.8" stroke-linejoin="round" stroke-linecap="round"/><polyline points="340.0,294.0 350.0,292.0 360.0,294.0 366.0,292.0" fill="none" stroke="rgba(0,0,0,0.18)" stroke-width="0.8" stroke-linejoin="round" stroke-linecap="round"/><polyline points="328.0,350.0 327.0,360.0 330.0,368.0 326.0,374.0" fill="none" stroke="rgba(0,0,0,0.18)" stroke-width="0.8" stroke-linejoin="round" stroke-linecap="round"/><polyline points="344.0,350.0 345.0,360.0 350.0,368.0" fill="none" stroke="rgba(0,0,0,0.18)" stroke-width="0.8" stroke-linejoin="round" stroke-linecap="round"/><polyline points="392.0,294.0 391.0,302.0 390.0,308.0 396.0,310.0 400.0,316.0 402.0,320.0 410.0,318.0 414.0,320.0 411.0,326.0 408.0,330.0" fill="none" stroke="rgba(0,0,0,0.18)" stroke-width="0.8" stroke-linejoin="round" stroke-linecap="round"/><polyline points="390.0,308.0 388.0,315.0" fill="none" stroke="rgba(0,0,0,0.18)" stroke-width="0.8" stroke-linejoin="round" stroke-linecap="round"/><polyline points="384.0,276.0 382.0,280.0 388.0,284.0 392.0,294.0" fill="none" stroke="rgba(0,0,0,0.18)" stroke-width="0.8" stroke-linejoin="round" stroke-linecap="round"/><polyline points="269.0,321.0 268.0,330.5 265.0,335.0 269.0,341.5 274.0,345.5 275.4,351.8 270.7,355.0 262.8,359.6 260.5,362.8" fill="none" stroke="rgba(0,0,0,0.18)" stroke-width="0.8" stroke-linejoin="round" stroke-linecap="round"/><polyline points="275.4,351.8 281.7,353.4 281.0,359.0 280.0,363.6 277.0,366.7 277.8,373.0 277.0,380.0" fill="none" stroke="rgba(0,0,0,0.18)" stroke-width="0.8" stroke-linejoin="round" stroke-linecap="round"/><polyline points="280.0,363.6 287.0,364.4 294.0,361.0 300.6,359.6" fill="none" stroke="rgba(0,0,0,0.18)" stroke-width="0.8" stroke-linejoin="round" stroke-linecap="round"/><polyline points="289.6,370.0 290.4,374.6 289.6,379.0 294.0,385.6" fill="none" stroke="rgba(0,0,0,0.18)" stroke-width="0.8" stroke-linejoin="round" stroke-linecap="round"/><polyline points="598.0,162.0 606.0,164.0 614.0,172.0" fill="none" stroke="rgba(0,0,0,0.18)" stroke-width="0.8" stroke-linejoin="round" stroke-linecap="round"/><polyline points="475.0,198.0 476.0,206.0 470.0,212.0 466.0,218.0 467.0,226.0 472.0,232.0 480.0,233.0" fill="none" stroke="rgba(0,0,0,0.18)" stroke-width="0.8" stroke-linejoin="round" stroke-linecap="round"/><polyline points="466.0,218.0 458.0,223.0 455.0,222.0" fill="none" stroke="rgba(0,0,0,0.18)" stroke-width="0.8" stroke-linejoin="round" stroke-linecap="round"/><polyline points="470.0,212.0 480.0,211.0 490.0,211.0 498.0,215.0 504.0,214.0 508.0,212.0" fill="none" stroke="rgba(0,0,0,0.18)" stroke-width="0.8" stroke-linejoin="round" stroke-linecap="round"/><polyline points="517.0,198.0 516.0,206.0 520.0,212.0" fill="none" stroke="rgba(0,0,0,0.18)" stroke-width="0.8" stroke-linejoin="round" stroke-linecap="round"/><polyline points="467.0,226.0 460.0,234.0 454.0,238.0 448.0,240.0" fill="none" stroke="rgba(0,0,0,0.18)" stroke-width="0.8" stroke-linejoin="round" stroke-linecap="round"/><polyline points="426.0,212.0 428.0,220.0 424.0,226.0 420.0,232.0 422.0,240.0 418.0,246.0 412.0,250.0" fill="none" stroke="rgba(0,0,0,0.18)" stroke-width="0.8" stroke-linejoin="round" stroke-linecap="round"/><polyline points="497.5,114.2 498.8,121.8 505.0,126.8 507.5,135.5 506.2,140.5 500.0,141.8 491.2,139.2 482.5,135.5 473.8,136.8 467.0,142.0" fill="none" stroke="rgba(0,0,0,0.18)" stroke-width="0.8" stroke-linejoin="round" stroke-linecap="round"/><polyline points="518.8,123.0 525.0,120.5 532.5,121.8 535.0,128.0 530.0,130.5 522.5,128.0 518.8,123.0" fill="none" stroke="rgba(0,0,0,0.18)" stroke-width="0.8" stroke-linejoin="round" stroke-linecap="round"/><polyline points="507.5,135.5 516.2,135.5 520.0,130.5 530.0,130.5" fill="none" stroke="rgba(0,0,0,0.18)" stroke-width="0.8" stroke-linejoin="round" stroke-linecap="round"/><polyline points="530.0,135.5 535.0,143.0 533.8,149.2 542.5,154.2 545.0,159.2 540.0,165.5 537.5,169.2 527.5,169.2 520.0,170.5 512.5,168.0 505.0,168.0 495.0,169.2" fill="none" stroke="rgba(0,0,0,0.18)" stroke-width="0.8" stroke-linejoin="round" stroke-linecap="round"/><polyline points="530.0,130.5 530.0,135.5" fill="none" stroke="rgba(0,0,0,0.18)" stroke-width="0.8" stroke-linejoin="round" stroke-linecap="round"/><polyline points="500.0,141.8 497.5,150.5 495.0,160.5 495.0,169.2" fill="none" stroke="rgba(0,0,0,0.18)" stroke-width="0.8" stroke-linejoin="round" stroke-linecap="round"/><polyline points="473.8,136.8 476.2,146.8 472.5,155.5 473.8,165.5 472.5,171.8" fill="none" stroke="rgba(0,0,0,0.18)" stroke-width="0.8" stroke-linejoin="round" stroke-linecap="round"/><polyline points="545.0,131.8 547.5,139.2 551.2,144.2 548.8,151.8 547.5,158.0 545.0,159.2" fill="none" stroke="rgba(0,0,0,0.18)" stroke-width="0.8" stroke-linejoin="round" stroke-linecap="round"/><polyline points="557.5,135.5 556.2,143.0 551.2,144.2" fill="none" stroke="rgba(0,0,0,0.18)" stroke-width="0.8" stroke-linejoin="round" stroke-linecap="round"/><polyline points="535.0,124.2 537.5,131.8 545.0,131.8" fill="none" stroke="rgba(0,0,0,0.18)" stroke-width="0.8" stroke-linejoin="round" stroke-linecap="round"/><polyline points="565.0,141.8 560.0,149.2 553.8,155.5 548.8,151.8" fill="none" stroke="rgba(0,0,0,0.18)" stroke-width="0.8" stroke-linejoin="round" stroke-linecap="round"/><polyline points="527.5,169.2 525.0,178.0 522.5,188.0 520.0,198.0 517.5,208.0" fill="none" stroke="rgba(0,0,0,0.18)" stroke-width="0.8" stroke-linejoin="round" stroke-linecap="round"/><polyline points="580.0,169.0 580.0,178.0 585.0,184.0 595.0,185.5" fill="none" stroke="rgba(0,0,0,0.18)" stroke-width="0.8" stroke-linejoin="round" stroke-linecap="round"/><polyline points="477.5,171.8 476.2,183.0 475.0,195.5 473.8,208.0 470.0,214.0" fill="none" stroke="rgba(0,0,0,0.18)" stroke-width="0.8" stroke-linejoin="round" stroke-linecap="round"/><polyline points="162.5,186.8 172.5,188.0 177.5,184.2 193.8,178.0 207.5,184.2 206.0,201.0 205.0,208.0 206.0,218.0 210.0,225.0 216.0,229.0" fill="none" stroke="rgba(0,0,0,0.42)" stroke-width="1.05" stroke-linejoin="round" stroke-linecap="round"/><polyline points="287.5,89.2 285.0,99.2 287.5,108.0 287.0,115.0 285.0,121.0 278.0,124.0 272.0,123.0 271.0,128.0 267.0,136.0 260.0,140.0 252.0,143.0 248.0,147.0 247.0,154.0 249.0,161.0 251.0,168.0 244.0,172.0 240.0,179.0 245.0,188.0 243.0,192.0 239.0,197.0 236.0,203.0 230.0,211.0 221.0,220.0 216.0,229.0" fill="none" stroke="rgba(0,0,0,0.42)" stroke-width="1.05" stroke-linejoin="round" stroke-linecap="round"/><polyline points="267.0,136.0 272.0,141.0 276.0,148.0 278.0,158.0 279.0,166.0 280.0,170.0 272.0,175.0 271.0,179.0 277.0,183.0 286.0,184.0 288.0,190.0 291.0,194.0 298.0,200.0 299.0,203.0" fill="none" stroke="rgba(0,0,0,0.42)" stroke-width="1.05" stroke-linejoin="round" stroke-linecap="round"/><polyline points="287.0,168.0 290.0,161.0 295.0,158.0 306.0,156.0 316.0,159.0 322.0,163.0 323.0,171.0 320.0,172.0 308.0,175.0 298.0,174.0 289.0,172.0 287.0,168.0" fill="none" stroke="rgba(0,0,0,0.42)" stroke-width="1.05" stroke-linejoin="round" stroke-linecap="round"/><polyline points="280.0,170.0 287.0,168.0" fill="none" stroke="rgba(0,0,0,0.42)" stroke-width="1.05" stroke-linejoin="round" stroke-linecap="round"/><polyline points="333.8,86.0 335.0,95.5 341.2,101.8 342.0,113.0 338.0,120.0 331.0,125.0 327.0,131.0 328.0,138.0 326.0,144.0 329.0,148.0 336.0,150.0 341.0,155.0 344.0,163.0 343.0,172.0 339.0,178.0 338.0,181.0" fill="none" stroke="rgba(0,0,0,0.42)" stroke-width="1.05" stroke-linejoin="round" stroke-linecap="round"/><polyline points="326.0,144.0 323.0,152.0 324.0,158.0 322.0,163.0" fill="none" stroke="rgba(0,0,0,0.42)" stroke-width="1.05" stroke-linejoin="round" stroke-linecap="round"/><polyline points="323.0,171.0 328.0,177.0 332.0,182.0 338.0,181.0 344.0,183.0 352.0,185.0 356.0,182.0 357.0,176.0 362.0,173.0 363.0,166.0 366.0,160.0 374.0,156.0 382.0,156.0" fill="none" stroke="rgba(0,0,0,0.42)" stroke-width="1.05" stroke-linejoin="round" stroke-linecap="round"/><polyline points="308.0,175.0 311.0,178.0 315.0,187.0 312.0,192.0 306.0,198.0 299.0,203.0 297.0,210.0 299.0,218.0 303.0,226.0 309.0,233.0 313.0,240.0 314.0,246.0 312.0,254.0 313.0,262.0 315.0,262.0" fill="none" stroke="rgba(0,0,0,0.42)" stroke-width="1.05" stroke-linejoin="round" stroke-linecap="round"/><polyline points="352.0,185.0 350.0,192.0 346.0,197.0 341.0,200.0 334.0,205.0 332.0,212.0 333.0,222.0 336.0,232.0 339.0,238.0 342.0,242.0 346.0,248.0 348.0,253.0 354.0,255.0 362.0,252.0 370.0,248.0" fill="none" stroke="rgba(0,0,0,0.42)" stroke-width="1.05" stroke-linejoin="round" stroke-linecap="round"/><polyline points="216.0,229.0 213.0,234.0 202.0,241.0 194.0,249.0 188.0,253.0 183.6,254.9" fill="none" stroke="rgba(0,0,0,0.42)" stroke-width="1.05" stroke-linejoin="round" stroke-linecap="round"/><polyline points="190.0,250.0 195.0,251.0 197.0,258.0 202.0,259.0 208.0,258.0 215.0,255.0 214.0,250.0 211.0,246.0 214.0,243.0 221.0,241.0 230.0,238.0 236.0,239.0 244.0,242.0 253.0,236.0 260.0,233.0 266.0,228.0 271.0,225.0" fill="none" stroke="rgba(0,0,0,0.42)" stroke-width="1.05" stroke-linejoin="round" stroke-linecap="round"/><polyline points="271.0,225.0 273.0,234.0 276.0,244.0 280.0,251.0 281.0,255.0 288.0,257.0 296.0,260.0 302.0,263.0 312.0,262.0 314.0,265.0 317.0,268.0 315.0,272.0 309.0,275.0 306.0,278.0 307.0,285.0 310.0,284.0" fill="none" stroke="rgba(0,0,0,0.42)" stroke-width="1.05" stroke-linejoin="round" stroke-linecap="round"/><polyline points="315.0,262.0 320.0,264.0 326.0,261.0 334.0,266.0 340.0,268.0 346.0,266.0 352.0,260.0 354.0,254.0" fill="none" stroke="rgba(0,0,0,0.42)" stroke-width="1.05" stroke-linejoin="round" stroke-linecap="round"/><polyline points="354.0,254.0 360.0,253.0 368.0,250.0 376.0,248.0 379.0,254.0 384.0,257.0 390.0,258.0 391.0,262.0 396.0,266.0 400.0,273.0 408.0,272.0 414.0,277.0 420.0,281.0 425.0,287.0" fill="none" stroke="rgba(0,0,0,0.42)" stroke-width="1.05" stroke-linejoin="round" stroke-linecap="round"/><polyline points="391.0,262.0 388.0,263.0 380.0,265.0 374.0,268.0 369.0,274.0 368.0,282.0 372.0,287.0 373.0,292.0 370.0,298.0 368.0,304.0 364.0,309.0 360.0,312.0 362.0,315.0 368.0,315.0 378.0,316.0 384.0,314.0 388.0,315.0 394.0,318.0 398.0,320.0 400.0,328.0 402.0,336.0" fill="none" stroke="rgba(0,0,0,0.42)" stroke-width="1.05" stroke-linejoin="round" stroke-linecap="round"/><polyline points="183.6,254.9 182.0,266.0 187.0,271.0 194.0,274.0 200.0,281.0 210.0,278.0 218.0,272.0 223.0,269.0" fill="none" stroke="rgba(0,0,0,0.42)" stroke-width="1.05" stroke-linejoin="round" stroke-linecap="round"/><polyline points="223.0,269.0 221.0,276.0 225.0,281.0 223.0,287.0 230.0,289.0 238.0,288.0 244.0,284.0 247.0,281.0 256.0,282.0 266.0,281.0 274.0,282.0 281.0,286.0 287.0,290.0 290.0,295.0" fill="none" stroke="rgba(0,0,0,0.42)" stroke-width="1.05" stroke-linejoin="round" stroke-linecap="round"/><polyline points="290.0,295.0 296.0,290.0 306.0,287.0 310.0,284.0" fill="none" stroke="rgba(0,0,0,0.42)" stroke-width="1.05" stroke-linejoin="round" stroke-linecap="round"/><polyline points="290.0,295.0 288.0,301.0 282.0,303.0 279.0,308.0 280.0,316.0 281.0,320.0" fill="none" stroke="rgba(0,0,0,0.42)" stroke-width="1.05" stroke-linejoin="round" stroke-linecap="round"/><polyline points="281.0,320.0 276.0,321.0 270.0,321.0 264.0,325.0 256.0,327.0 248.0,330.0 240.0,331.0 235.0,332.0 238.0,337.0 242.0,344.0 246.0,350.0 252.0,352.0 258.0,358.0 262.0,364.0 266.0,368.0 271.0,374.0 276.2,380.1" fill="none" stroke="rgba(0,0,0,0.42)" stroke-width="1.05" stroke-linejoin="round" stroke-linecap="round"/><polyline points="281.0,320.0 284.9,330.6 291.0,336.9 295.9,344.7 298.2,349.4 299.0,355.7 302.0,362.0 303.7,371.4" fill="none" stroke="rgba(0,0,0,0.42)" stroke-width="1.05" stroke-linejoin="round" stroke-linecap="round"/><polyline points="168.6,275.4 170.0,280.0 178.0,284.0 183.0,290.0 186.0,298.0 187.0,306.0 192.0,311.0 193.0,318.0 196.0,323.0 195.0,328.0 190.0,333.0 187.0,340.0 188.0,347.0 194.0,353.0 202.0,356.0 207.0,356.0" fill="none" stroke="rgba(0,0,0,0.42)" stroke-width="1.05" stroke-linejoin="round" stroke-linecap="round"/><polyline points="428.0,171.0 427.0,175.0 429.0,178.0 428.0,186.0 425.0,194.0 426.0,201.0 430.0,206.0 436.0,212.0 442.0,217.0 448.0,219.0 455.0,222.0 454.0,228.0 451.0,233.0 448.0,240.0 444.0,246.0 438.0,249.0 433.0,251.0 432.0,257.0 435.0,262.0 435.0,268.0 430.0,274.0 425.0,287.0" fill="none" stroke="rgba(0,0,0,0.42)" stroke-width="1.05" stroke-linejoin="round" stroke-linecap="round"/><polyline points="429.0,178.0 438.0,180.0 448.0,180.0 458.0,178.0 468.0,175.0 474.0,170.0 482.0,171.0 492.0,169.0 495.0,175.0 497.0,182.0 496.0,190.0 495.0,198.0 498.0,204.0 502.0,210.0 508.0,212.0 516.0,211.0 520.0,212.0" fill="none" stroke="rgba(0,0,0,0.42)" stroke-width="1.05" stroke-linejoin="round" stroke-linecap="round"/><polyline points="592.0,141.0 588.0,148.0 584.0,154.0 579.0,160.0 577.0,168.0 572.0,170.0 564.0,171.0 556.0,172.0 550.0,170.0 543.0,172.0 540.0,176.0 542.0,182.0 548.0,187.0 551.0,192.0 555.0,196.0 560.0,197.0 564.0,195.0" fill="none" stroke="rgba(0,0,0,0.42)" stroke-width="1.05" stroke-linejoin="round" stroke-linecap="round"/><polyline points="425.0,287.0 426.0,296.0 431.0,301.0" fill="none" stroke="rgba(0,0,0,0.42)" stroke-width="1.05" stroke-linejoin="round" stroke-linecap="round"/></g>
<polygon points="131.4,280.1 135.0,268.0 140.0,259.2 141.2,249.2 136.2,241.8 130.0,233.0 127.5,221.8 131.2,214.2 138.8,208.0 141.2,201.8 150.0,196.8 157.5,190.5 162.5,186.8 165.0,179.2 169.5,175.0 171.2,170.5 175.0,159.2 177.5,151.8 187.5,149.2 195.0,147.5 193.8,141.8 197.5,134.2 201.2,132.5 203.8,136.8 210.0,136.8 218.8,128.0 227.0,119.2 231.2,109.2 243.8,109.2 257.5,109.2 271.2,108.0 281.2,104.2 285.0,95.5 287.5,89.2 297.5,88.0 302.5,81.8 305.0,74.2 312.5,76.0 320.0,81.8 322.5,85.0 333.8,86.0 348.8,88.5 351.2,91.8 355.0,90.5 361.2,90.0 363.8,85.0 372.5,83.0 381.2,86.8 385.0,95.5 391.2,103.0 396.2,110.5 405.0,111.8 410.0,114.2 406.2,124.2 402.5,119.2 393.8,119.2 386.2,125.5 381.2,135.5 382.5,145.5 383.8,155.5 388.8,159.2 395.0,165.5 405.0,169.2 422.5,170.0 437.5,168.0 446.2,163.0 447.5,153.0 455.0,146.8 466.2,140.5 473.8,133.0 476.2,126.8 473.0,123.5 480.0,120.5 490.0,117.5 500.0,114.2 508.8,110.5 520.0,112.5 530.0,118.0 536.2,124.2 540.0,130.5 550.0,131.8 552.0,126.8 556.2,130.5 557.5,136.8 566.2,142.5 571.2,140.5 580.0,141.2 591.2,140.0 597.5,135.5 603.8,133.5 607.5,139.2 612.5,141.8 620.0,145.5 628.8,146.8 632.5,145.0 641.2,145.0 644.5,147.5 640.0,150.5 635.0,151.8 636.2,158.0 638.8,163.0 635.0,168.0 630.0,173.0 627.5,176.8 633.8,178.0 633.0,184.2 627.5,186.8 623.8,189.2 618.8,191.8 612.5,191.8 610.0,188.0 606.2,186.8 605.0,184.2 600.0,185.5 592.5,186.8 583.8,190.5 575.0,194.2 570.0,196.8 567.5,200.5 562.5,195.5 557.5,199.2 552.5,201.8 545.0,205.5 537.5,208.0 530.0,213.0 522.5,214.2 516.2,211.8 521.2,218.0 520.0,224.2 517.5,230.5 513.8,228.0 507.5,230.5 506.2,235.5 501.2,239.2 503.8,251.8 495.0,254.2 487.5,256.8 480.0,259.2 476.2,259.2 475.0,264.2 472.5,269.2 467.5,271.8 461.2,278.0 456.2,283.0 451.2,288.0 447.5,293.0 441.2,295.5 437.5,296.8 433.8,300.5 431.2,308.0 427.5,313.0 423.8,319.2 418.8,325.5 415.0,333.0 410.0,338.0 405.0,336.8 398.8,338.0 390.0,341.8 378.8,343.5 377.5,348.0 373.8,354.2 370.0,359.2 371.2,364.2 365.0,368.0 356.2,371.8 350.0,374.2 348.8,384.2 343.8,390.5 335.0,393.0 328.8,395.5 330.0,390.5 332.5,385.5 326.2,383.0 325.0,376.8 318.8,375.5 313.8,373.0 303.8,374.2 304.5,379.3 302.9,384.0 297.4,383.2 294.3,385.6 288.8,388.7 283.3,387.9 278.6,384.0 276.2,380.1 273.9,380.1 268.4,383.2 267.6,387.1 264.4,391.1 260.5,390.3 258.1,384.0 256.6,378.5 251.9,373.0 248.7,366.7 244.0,362.0 241.6,356.5 237.7,353.4 231.4,351.8 223.6,351.8 215.7,353.4 207.1,355.7 204.7,365.1 203.1,371.4 200.0,377.7 195.0,379.2 187.5,381.8 177.5,379.2 165.0,381.8 155.0,381.8 146.2,380.5 140.0,375.5 138.8,368.0 136.2,360.5 127.5,358.0 122.5,353.0 117.5,346.8 111.2,348.0 101.2,346.8 96.2,340.5 97.5,333.0 101.2,329.2 106.2,320.5 112.5,314.2 121.2,310.5 130.0,305.5 136.2,296.8 141.4,288.0 154.3,283.7 158.6,278.7 168.6,275.4 169.3,270.9 174.3,266.6 180.7,266.6 182.1,260.9 183.6,254.9 177.1,258.0 165.7,262.3 155.7,266.6 148.6,270.1 138.6,275.1" fill="none" stroke="#111" stroke-width="1.3" stroke-linejoin="round"/>
<polygon points="464.0,250.0 468.0,247.0 474.0,248.0 479.0,245.0 482.0,248.0 480.0,253.0 477.5,257.0 475.5,261.5 472.0,258.0 467.0,256.0 464.0,253.0" fill="#fff" stroke="#111" stroke-width="1.1" stroke-linejoin="round"/>
<ellipse cx="520" cy="63.6" rx="1.2" ry="2.4" transform="rotate(0 520 63.6)" fill="#111"/>
<ellipse cx="514.3" cy="68.6" rx="2.5" ry="1.3" transform="rotate(-48 514.3 68.6)" fill="#111"/>
<ellipse cx="508.6" cy="80.7" rx="1.8" ry="2.1" transform="rotate(-20 508.6 80.7)" fill="#111"/>
<ellipse cx="516.1" cy="90.0" rx="0.7" ry="0.7" transform="rotate(0 516.1 90.0)" fill="#111"/>
<ellipse cx="517.1" cy="94.0" rx="0.9" ry="0.9" transform="rotate(0 517.1 94.0)" fill="#111"/>
<ellipse cx="521.7" cy="93.6" rx="1.0" ry="1.0" transform="rotate(0 521.7 93.6)" fill="#111"/>
<ellipse cx="499.3" cy="99.3" rx="1.8" ry="1.5" transform="rotate(0 499.3 99.3)" fill="#111"/>
<ellipse cx="505" cy="97.9" rx="1.5" ry="1.7" transform="rotate(0 505 97.9)" fill="#111"/>
<ellipse cx="504" cy="101.3" rx="0.9" ry="0.9" transform="rotate(0 504 101.3)" fill="#111"/>
<ellipse cx="507.9" cy="102.3" rx="1.4" ry="2.8" transform="rotate(-15 507.9 102.3)" fill="#111"/>
<ellipse cx="487.4" cy="114.6" rx="1.0" ry="1.0" transform="rotate(0 487.4 114.6)" fill="#111"/>
<ellipse cx="468.7" cy="283.0" rx="1.5" ry="1.5" transform="rotate(0 468.7 283.0)" fill="#111"/>
<ellipse cx="477.6" cy="267.8" rx="0.8" ry="0.8" transform="rotate(0 477.6 267.8)" fill="#111"/>
<ellipse cx="491.3" cy="266.8" rx="0.7" ry="0.7" transform="rotate(0 491.3 266.8)" fill="#111"/>
<ellipse cx="517.6" cy="272.6" rx="0.8" ry="0.8" transform="rotate(0 517.6 272.6)" fill="#111"/>
<ellipse cx="523.7" cy="228.3" rx="1.0" ry="1.0" transform="rotate(0 523.7 228.3)" fill="#111"/>
<ellipse cx="522.4" cy="248.7" rx="0.6" ry="0.6" transform="rotate(0 522.4 248.7)" fill="#111"/>
<ellipse cx="613" cy="200.8" rx="0.8" ry="0.8" transform="rotate(0 613 200.8)" fill="#111"/>
<ellipse cx="560" cy="133.0" rx="1.0" ry="0.7" transform="rotate(0 560 133.0)" fill="#111"/>
<ellipse cx="608" cy="137.0" rx="0.7" ry="0.7" transform="rotate(0 608 137.0)" fill="#111"/>
<ellipse cx="450" cy="336.0" rx="0.6" ry="0.6" transform="rotate(0 450 336.0)" fill="#111"/>
<ellipse cx="445" cy="347.5" rx="0.6" ry="0.6" transform="rotate(0 445 347.5)" fill="#111"/>
<text x="305.5" y="125" font-size="8.2" text-anchor="middle" fill="#222" fill-opacity="1" class="cn">滨州</text>
<text x="367" y="134.5" font-size="8.2" text-anchor="middle" fill="#222" fill-opacity="1" class="cn">东营</text>
<text x="219" y="159.5" font-size="8.2" text-anchor="middle" fill="#222" fill-opacity="1" class="cn">德州</text>
<text x="517" y="152.5" font-size="8.2" text-anchor="middle" fill="#222" fill-opacity="1" class="cn">烟台</text>
<text x="604.5" y="163.5" font-size="8.2" text-anchor="middle" fill="#222" fill-opacity="1" class="cn">威海</text>
<text x="266.5" y="209.5" font-size="8.2" text-anchor="middle" fill="#222" fill-opacity="1" class="cn">济南</text>
<text x="321" y="215.5" font-size="8.2" text-anchor="middle" fill="#222" fill-opacity="1" class="cn">淄博</text>
<text x="392.5" y="218.5" font-size="8.2" text-anchor="middle" fill="#222" fill-opacity="1" class="cn">潍坊</text>
<text x="474.5" y="222.5" font-size="8.2" text-anchor="middle" fill="#222" fill-opacity="1" class="cn">青岛</text>
<text x="178" y="228" font-size="8.2" text-anchor="middle" fill="#222" fill-opacity="1" class="cn">聊城</text>
<text x="250.5" y="267" font-size="8.2" text-anchor="middle" fill="#222" fill-opacity="1" class="cn">泰安</text>
<text x="403" y="302" font-size="8.2" text-anchor="middle" fill="#222" fill-opacity="1" class="cn">日照</text>
<text x="224.5" y="314" font-size="8.2" text-anchor="middle" fill="#222" fill-opacity="1" class="cn">济宁</text>
<text x="338.5" y="321.5" font-size="8.2" text-anchor="middle" fill="#222" fill-opacity="1" class="cn">临沂</text>
<text x="153" y="336" font-size="8.2" text-anchor="middle" fill="#222" fill-opacity="1" class="cn">菏泽</text>
<text x="285" y="356" font-size="8.2" text-anchor="middle" fill="#222" fill-opacity="1" class="cn">枣庄</text>
<text x="170.5" y="67" font-size="12.5" letter-spacing="0.1" text-anchor="middle" class="cn" fill="#111">山东省逐24小时降水预报图</text>
<text x="171" y="79.8" font-size="9.6" text-anchor="middle" class="cn" fill="#111">2024年07月09日20时-10日20时</text>
<text x="170.5" y="94" font-size="8.2" text-anchor="middle" class="cn" fill="#111">山东省气象台</text>
<rect x="593.3" y="226.20" width="8.6" height="22.02" fill="#860a4c" stroke="#5a0632" stroke-width="0.8"/>
<rect x="593.3" y="248.22" width="8.6" height="22.02" fill="#f402f2" stroke="#b000b0" stroke-width="0.8"/>
<rect x="593.3" y="270.24" width="8.6" height="22.02" fill="#0a0ae2" stroke="#0606a0" stroke-width="0.8"/>
<rect x="593.3" y="292.26" width="8.6" height="22.02" fill="#68b2e4" stroke="#3f86b8" stroke-width="0.8"/>
<rect x="593.3" y="314.28" width="8.6" height="22.02" fill="#42b645" stroke="#2f8f32" stroke-width="0.8"/>
<rect x="593.3" y="336.30" width="8.6" height="22.02" fill="#a9f18d" stroke="#3f9a3a" stroke-width="0.8"/>
<text x="605" y="250.0" font-size="6.2" class="cn" fill="#222">250</text>
<text x="605" y="272.0" font-size="6.2" class="cn" fill="#222">100</text>
<text x="605" y="294.0" font-size="6.2" class="cn" fill="#222">50</text>
<text x="605" y="316.1" font-size="6.2" class="cn" fill="#222">25</text>
<text x="605" y="338.1" font-size="6.2" class="cn" fill="#222">10</text>
<text x="604.5" y="360" font-size="6.2" class="cn" fill="#222">0.1</text>
<text x="608" y="371" font-size="8.3" font-weight="bold" text-anchor="middle" class="cn" fill="#111">单位：毫米</text>
<text x="645.8" y="396.2" font-size="7.9" font-weight="bold" text-anchor="end" class="cn" fill="#222">2024年07月07日16时制作</text>
<text x="645.8" y="405.2" font-size="6.4" text-anchor="end" class="cn" fill="#8f8f8f">审图号：GS(2017)3320号</text>
</g>
<text transform="translate(0,441.4) scale(1,1.1)" y="0" class="cap" font-size="18" text-anchor="middle"><tspan x="83.9">图</tspan><tspan x="104">5</tspan><tspan x="142.25" letter-spacing="0.7">2024</tspan><tspan x="177.1">年</tspan><tspan x="198.4">7</tspan><tspan x="217.3">月</tspan><tspan x="239.5">8</tspan><tspan x="260.5">日</tspan><tspan x="288.45000000000005" letter-spacing="0.7">20</tspan><tspan x="313.6">时</tspan><tspan x="332.9" font-size="22.5">—</tspan><tspan x="348.6">7</tspan><tspan x="367.9">月</tspan><tspan x="389.7">9</tspan><tspan x="411.4">日</tspan><tspan x="436.75" letter-spacing="0.7">20</tspan><tspan x="462.9">时</tspan><tspan x="483.3">降</tspan><tspan x="503.7">水</tspan><tspan x="523.7">量</tspan><tspan x="544">预</tspan><tspan x="564.6">报</tspan><tspan x="582.2">（</tspan><tspan x="608.6">毫</tspan><tspan x="628.6">米</tspan><tspan x="651.8">）</tspan></text>
<text transform="translate(0,873.2) scale(1,1.1)" y="0" class="cap" font-size="18" text-anchor="middle"><tspan x="78.6">图</tspan><tspan x="99.3">6</tspan><tspan x="136.75" letter-spacing="0.7">2024</tspan><tspan x="172.4">年</tspan><tspan x="193.6">7</tspan><tspan x="213.9">月</tspan><tspan x="235.4">9</tspan><tspan x="257.2">日</tspan><tspan x="285.35" letter-spacing="0.7">20</tspan><tspan x="309.6">时</tspan><tspan x="328.9" font-size="22.5">—</tspan><tspan x="344">7</tspan><tspan x="364.3">月</tspan><tspan x="391.75" letter-spacing="0.7">10</tspan><tspan x="418.6">日</tspan><tspan x="445.75" letter-spacing="0.7">20</tspan><tspan x="470.6">时</tspan><tspan x="490.3">降</tspan><tspan x="510.6">水</tspan><tspan x="530.4">量</tspan><tspan x="551">预</tspan><tspan x="571.6">报</tspan><tspan x="588.5">（</tspan><tspan x="615.1">毫</tspan><tspan x="635.7">米</tspan><tspan x="658.9">）</tspan></text>
</svg>
</body></html>
